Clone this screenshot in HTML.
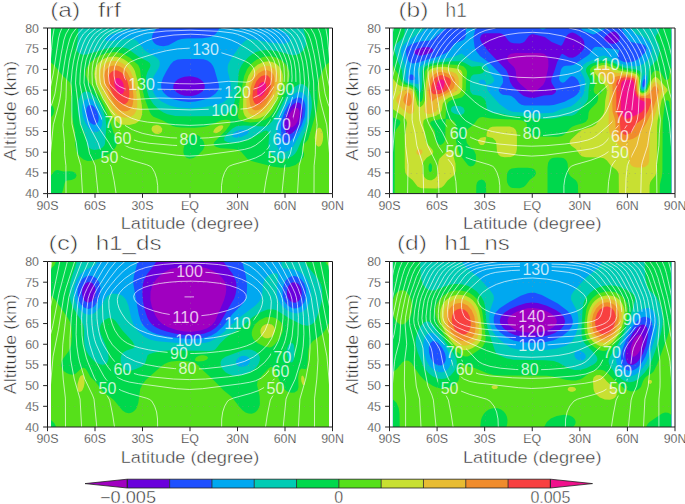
<!DOCTYPE html>
<html><head><meta charset="utf-8"><style>html,body{margin:0;padding:0;background:#fff;overflow:hidden}svg{display:block;font-family:"Liberation Sans",sans-serif}</style></head>
<body><svg width="685" height="504" viewBox="0 0 685 504" font-family="Liberation Sans, sans-serif">
<rect width="685" height="504" fill="#fff"/>
<clipPath id="clipa"><rect x="51.0" y="28.0" width="278.0" height="165.6"/></clipPath>
<g clip-path="url(#clipa)">
<rect x="51.0" y="28.0" width="278.0" height="165.6" fill="#a000c0"/>
<path fill="#6a00dc" fill-rule="evenodd" d="M50.5,28l279,0 0,165.6-279,0 0-165.6zM295.5,107.8l-2,1-2,2.1-2,3.4-1.2,3.5-.5,3 .2,3 .6,2 1.9,1.7 2-.3 3-2.5 2-3.2 1.4-3.7 .7-4-.3-3-.8-1.9-1-.9-2-.2z"/>
<path fill="#1e50ff" fill-rule="evenodd" d="M50.5,28l279,0 0,165.6-279,0 0-165.6zM184.5,76.8l-4,1.2-3,1.6-2.5,2.3-1.2,2-.6,3 .4,2 1.3,1.9 2.4,2 3.2,1.7 4,1.2 7,.3 4-.8 3.4-1.4 3.1-2 1.8-1.9 .9-2 0-3-1.5-3-2.7-2.5-3-1.6-4-1.1-4-.4-5,.5zM295.5,102.7l-3,2-3,3.6-2.9,5.5-1.7,5-.7,5 .5,5 1.5,3.9 2.3,1.6 2-.2 2-1.1 4-4.2 3.5-6 2-6 .7-7-1.2-4.9-1-1.4-2-1.1-3,.3z"/>
<path fill="#00a8f0" fill-rule="evenodd" d="M50.5,28l106.4,0-3.4,4.6-1.1,2.4-.5,3 .4,2 1.8,3 2.4,1.7 3,1.1 4,.4 5-.9 9-5 4-1.3 5-.4 16-.3 7-1.1 3.1-1.2 2.9-2 2.5-3 1.5-3 110,0 0,165.6-279,0 0-165.6zM90.5,104.8l-2,.5-1.9,2.5-.5,4 .5,4 1.6,4 2.3,3.1 3,1.8 2-.1 2-1.5 1-2.3 .2-3-.4-3-1.4-4-1.9-3-2.5-2.3-2-.7zM183.5,58.9l-6,.6-4,1.8-3,3.3-4,6.5-3.6,6.8-1.8,6 .3,5 2.3,3.9 3.8,3.4 6,3 7,1.9 8,.8 7-.4 8-1.8 7-2.7 4.8-3.2 3-3.9 .6-2 0-3-4.4-15.4-1.5-3.6-2.1-3-3.4-2.5-4-1.1-6-.4-14,0zM296.5,97.7l-4,2.4-4,4.7-3.9,7-2.9,8-.9,7 .7,8.9 1.6,5 1.4,1.6 1,.5 2-.1 3-1.7 6-6.9 5-8.6 3.1-8.7 .9-8-.3-4-.9-3-1.1-2-1.7-1.6-2-.8-3,.3z"/>
<path fill="#00ccb4" fill-rule="evenodd" d="M50.5,28l80.2,0-3.2,1.6-10,2.7-6,2.3-5.4,3.4-.8,1-.1,1 2.2,1 4.1,0 18-2.5 4,.6 3.5,1.9 7.5,8.9 3,2.3 8.4,4.7 2.2,2 1.2,2 .5,2-.3,3-1.3,3-4.7,7.8-1.5,6.2 0,4 .5,3 1.1,2.9 1.9,3.1 2.7,2.9 3.3,2.7 8,4 8,1.9 12,.8 12-.8 14-2.1 7-2.3 4.1-3.2 3-5 1.4-5.9-.4-6-2.9-12 0-4 .6-3 3.1-6 10.3-13.9 3.8-3.6 3-1.2 3-.2 19,3.7 10,.9 5-.2 3.6-1.4 1.3-2-.3-3-1.6-2.3-3-2.3-4-1.9-5-1.4-6-1.1 59,0 0,165.6-279,0 0-165.6zM87.5,98.5l-3,2-2,4.3-.5,6 .9,6 2.3,6 3.3,5.1 4,3.6 2,.8 2,0 3-1.9 2.4-4.6 .6-5-.9-6-2.6-7-3.5-5.3-4-3.3-2-.7-2,0zM240.5,129.7l-3.6,1.1-3.1,1.9-1.5,2 .2,2 3,1.1 6-.9 4.9-2.2 2.3-2 .4-1-.3-.9-2.2-1-6.1-.1zM296.5,92.6l-5,3.5-5,6.4-5.4,10.3-3.8,10-.6,5-.1,16.9 1.9,4.5 2,1.7 2,.8 3,.1 3-1 2.7-2.1 2.3-2.9 9.5-17 2.4-6 1.8-6 1-6 .2-5-.4-4-1.1-4-1.8-3-2.6-2.2-3-.7-3,.7zM251.7,28l5,0-5,0z"/>
<path fill="#00d84c" fill-rule="evenodd" d="M50.5,28l27.7,0-.2,8-1.5,12 1.2,3.9 2.8,2.3 3,.6 3-.3 21-6.2 7-1 7,0 4,.7 3,1.2 10.6,7.7 8.4,4.3 2.2,1.7 .8,2-.4,2-2.6,5-1.3,4-.3,6 .4,6 2.2,7.9 2,4 3,4.5 6,5.8 4,2.5 4,1.6 8,1.7 14,.4 27-.4 9-2.1 3-1.4 2-1.5 1.5-2.1 1.5-3.4 2.9-10.6 1.2-7.9 .9-13 1.2-5 2-4 3-4 3.8-3.9 4-3.1 3-1.7 4-1.3 4-.7 5-.3 8.2,1 14.8,4.2 3,.1 3-.7 3-1.6 2.9-3 1.8-2.9 .9-3-.1-6-2.8-10 26.3,0 0,165.6-279,0 0-165.6zM84.5,91.7l-2,1.2-1.7,1.9-2.4,6-.7,8 1,8 2.1,7 5,11.9 1.1,8 .7,2 1.4,2 2.5,1.6 3,.6 3-.3 2.9-.9 2.1-1.3 1.6-1.7 .9-2 1.3-17.9-.9-8-3.8-11-5.1-8.4-3-3.4-3-2.3-3-1.2-3,.2zM298.5,84.5l-5,3.1-5,5.6-4.8,7.6-8.2,15.6-4,5.6-3,2.9-2,1.2-2,.3-21-.9-7,.7-4,2.2-5.5,5.3-2.7,4-.2,2 .5,1 2.9,1.6 4,.4 5-.2 6-1.1 9-3.3 12-6.8 3-.8 2,1.6 .8,2.6-.9,10 .4,4 1.2,3 2.4,3 4.6,3 5.5,1.3 5-.5 5-2.5 2.5-2.3 2-3 9.1-20.9 4-12 1.7-10 .1-5-.5-5-1.3-5-1.6-3.5-2-2.8-3-2.1-2-.4-3,.5z"/>
<path fill="#56e01a" fill-rule="evenodd" d="M107.1,52.9l8.4-.9 7,1.4 7,4 8.7,7.5 1.8,4 2.2,19 2.2,9.9 5.2,14 1.7,3 2.2,2 9.8,4 9.2,5.2 4,1 5,.5 13,.2 9-.6 5-1.4 13-5.4 4-.6 3,.3 1.6,.8 .6,1-.7,3-4.5,6-11,10.9-.9,2 .6,2 2.3,1.4 4,1.1 13,.9 4,.6 3.6,2 6.1,7 4.3,2.4 22,5.6 8,1.1 8-.7 6-2.2 5-3.8 3.2-4.4 .4-3-1.6-4 0-3 1-2.3 4.5-4.7 8.7-28.9 1-9-.1-14.9 .9-6 2.1-6 3.4-7 2.5-3.4 3-2.5 0,131.6-267.7,0 1.4-4 1.3-6 .9-2 1.7-1 4.4-.6 3-1.2 1.3-1.2 .8-2-1.1-2.6-3-1.6-3-.2-6,.4-6-1.6-2,.6-1.6,1.1-3.4,4.6 0-58.5 2.7-3 1.1-4-1.1-4-2.7-3 0-41.7 4,3.4 7.4,9.4 7.6,7 2,3.9 .4,4.1-1.1,12.9 .1,7 1,7 3.2,14.9 .2,14 1.4,6 2.8,4.5 4,3.3 4,1.4 5-.1 8-2.5 9-4.8 5.1-4.8 1.3-2 1-3-.3-4-3.1-7.2-4.7-14.7-4.7-12-5.6-10.4-11.2-15.5-1.8-5 .2-4 1-3 1.8-3 2.5-3 3.5-3 4-2.6 4-1.9 4.6-1.5zM193.5,134.5l-3,1.3-3.1,2.9-2.2,4-1.7,6-.1,4 1.1,3 2,2 3,1.1 4-.7 5-3.4 4.6-5 1.6-4-1-4-3.2-4.8-3-2-2-.6-2,.2zM263,56.9l5.5-.7 5,.6 5,1.8 5,3.5 3.4,3.8 2.4,5 .5,5-1,5-2.8,7-9.9,19.9-3,5-3.5,4-5.1,3.2-6,1.8-8,.7-7-.9-3-1.3-1.9-1.5-.8-3 2-17 4.4-22.9 3-7 3.9-5 5.4-4.2 6.5-2.8z"/>
<path fill="#c8e032" fill-rule="evenodd" d="M109.1,56.9l3.4-.4 4,.2 4,1 3,1.4 4,2.6 3.6,3.2 2.3,3 1.5,3 2.7,10 4.2,23.9 .5,6-.3,4-1.3,4-2.2,2.8-3,1.9-6,1.4-6-.1-4-1.1-4-3.1-5-7.8-14.4-29.9-1.5-5-.4-4 .5-4 1.1-3 2.7-4 3-2.6 4-2.2 3.6-1.2zM263.4,61.9l5.1-.6 4,.7 4,2 3,2.9 2.3,4 1,4 .1,5-.9,5-2.7,7.9-4.1,9-3.7,6.6-3.4,4.4-3.6,3-5,2.4-5,1-5-.3-2.7-1.1-2-2-1.3-3-.5-3 .2-11 2.6-14.9 2.7-8.1 4-6.6 5-4.5 5.9-2.8zM153.3,125.8l3.2-.9 2,.3 2,1 1.8,2.6-.4,2.9-1.4,1.4-2,.8-3-.2-1.9-1-1.7-1.9-.4-2 .7-2 1.1-1zM219,125.8l2.5-.6 1.6,.6 .2,1-.8,2-2,2.1-3,1.9-2,.5-1.8-.6-.4-1 .8-1.9 1.7-2 3.2-2zM318.4,127.8l1.6,0 1.5,1.4 1.3,3.5 .4,4-.4,4-.9,3-1.4,2.3-2,.8-1.6-1.1-1.2-2-1-6 .9-6 .9-2 1.9-1.9z"/>
<path fill="#e8bc32" fill-rule="evenodd" d="M112.2,60.9l3.3,0 3,.7 4,1.7 3,2 2.7,2.6 2.2,3 3.1,7 1.6,7 1.5,9.9 .7,7-.1,5-.9,4-1.6,3-2.2,2-3,1.4-4,.6-4-.7-3-1.5-3-2.7-3-4-3-5.5-5.4-11.6-3.1-7.9-1.5-8 .3-4 1-3 1.9-3 2.8-2.6 3-1.5 3.7-.9zM265.2,65.9l3.3-.1 3,.9 3,1.9 2,2.5 1.3,2.8 .7,4-.1,4-.9,5-1.9,5.9-2.7,6-3.3,6-3.1,4.3-3,2.9-4,2.3-4,1.1-3-.3-2-.8-2-2.1-1.2-2.4-.8-4-.1-9 1.9-10.9 2.9-8 3.3-5.4 5-4.4 3-1.5 2.7-.7z"/>
<path fill="#f08c2c" fill-rule="evenodd" d="M111,65.9l2.5-.5 3,.1 3,.8 3,1.7 2.4,1.9 2.5,3 3,6 2.3,10 .7,6.9-.1,5-.6,4-1.2,2.8-1.9,2.2-2.1,1.2-3,.4-3-.7-3-1.7-2-1.9-5-7.4-5.3-11.8-2.1-8 .2-6 1-3 1.3-2 1.9-1.7 2.5-1.3zM262.4,70.9l2.1-.6 3-.1 3,1.2 1.7,1.5 1.3,2 1,3 0,7-1.2,5-1.8,4.7-5,8.8-2.9,3.4-2.5,2-2.6,1.3-3,.4-2-.7-1.3-1-2.1-4-.8-6 .7-8 1.8-6.9 2.7-5.7 4-4.9 3.9-2.4z"/>
<path fill="#f84040" fill-rule="evenodd" d="M112.9,70.9l2.6-.6 2,.3 4,1.9 3.3,3.4 2.6,5 1.7,7 .3,7.9-1.1,5-1.4,2-1.4,1-2,.4-2-.4-4-2.9-4-5.7-3-6.3-1.7-6-.3-5.4 1.1-3.6 1.7-2 1.6-1zM261.7,75.9l3.8-.9 2,.5 1.7,1.4 1.7,4-.2,6-2.4,6.9-3.8,6.4-4,3.6-2,.7-2,0-2-1.4-1.5-3.3-.5-4 .5-5 1.3-4.9 2.2-4.8 2.6-3.2 2.6-2z"/>
<path fill="#f0108c" fill-rule="evenodd" d="M116.5,77.9l2,0 2,1.2 2,2.6 1,2.2 .7,6-.7,2.7-1,1.2-2,.1-1.6-1.1-1.8-2-1.6-2.9-1-3-.3-3 .4-2 1.9-2zM262.6,81.9l1.9,.1 1,.9 .7,2-.1,3-.9,2.9-1.7,3.2-2,2.1-2,.7-1-.3-1.2-1.7-.1-4.9 .9-3 1.4-2.5 1.4-1.5 1.7-1z"/>
<mask id="maska" maskUnits="userSpaceOnUse" x="0" y="0" width="685" height="504"><rect x="0" y="0" width="685" height="504" fill="white"/><rect x="189.7" y="41.9" width="31.7" height="15" fill="black"/><rect x="125.7" y="76.4" width="31.7" height="15" fill="black"/><rect x="221.7" y="84.8" width="31.7" height="15" fill="black"/><rect x="274.1" y="81.9" width="22.8" height="15" fill="black"/><rect x="208.7" y="102.8" width="31.7" height="15" fill="black"/><rect x="102.1" y="115.3" width="22.8" height="15" fill="black"/><rect x="111.1" y="130.7" width="22.8" height="15" fill="black"/><rect x="177.1" y="132.2" width="22.8" height="15" fill="black"/><rect x="98.1" y="149.7" width="22.8" height="15" fill="black"/><rect x="270.6" y="117.3" width="22.8" height="15" fill="black"/><rect x="270.1" y="132.2" width="22.8" height="15" fill="black"/><rect x="265.1" y="149.7" width="22.8" height="15" fill="black"/></mask>
<path d="M95.5,30.0V193.6M142.5,30.0V193.6M190.5,30.0V193.6M238.5,30.0V193.6M285.5,30.0V193.6M52.0,49.5H329.0M52.0,90.5H329.0M52.0,132.5H329.0M52.0,173.5H329.0" fill="none" stroke="#909090" stroke-opacity="0.45" stroke-width="1" stroke-dasharray="1 4.6"/>
<path d="M325.8,28l1.7,10 2.4,24.9 2.6,13.8M47.5,76.7l2.6-13.8 2.4-24.9 1.7-10M318,28l2.1,5 1.3,5 5.2,34.9 3.5,17 2.4,7.6M47.5,97.5l2.4-7.6 3.5-17 5.2-34.9 1.3-5 2.1-5M310.6,28l3.5,6 2,6 2.7,13.9 6.3,39.9 3,10 4.4,10.2M47.5,114l4.4-10.2 3-10 6.3-39.9 2.7-13.9 2-6 3.5-6M303.5,28l4.6,6 2.1,5 1.7,6 2.3,9.9 1.9,11 2.4,17 .4,7.9 1.1,8 1.6,7 5.1,19 5,50.8 .8,18M47.5,193.6l.8-18 5-50.8 5.1-19 1.6-7 1.1-8 .4-7.9 2.5-17 1.8-11 2.3-9.9 1.7-6 2.1-5 4.6-6M296.7,28l5.6,6 2.2,4.2 1.8,4.8 2.8,9.9 1.7,8 2.8,21 .4,16.9 3.1,26-1.6,17.9-.2,12-1.2,11-.1,27.9M66,193.6l-.1-27.9-1.2-11-.2-12-1.6-17.9 3.1-26 .4-16.9 2.8-21 1.8-8 2.7-9.9 1.8-4.8 2.2-4.2 5.6-6M290.1,28l6.5,6 2.5,4 2.3,5 3.4,10.9 1.8,8 1.2,8 1.2,13-.8,13.9-.1,27-4.4,18.9-1.4,12-3.2,11-1.6,27.9M82.5,193.6l-1.6-27.9-3.2-11-1.4-12-4.4-18.9-.1-27-.8-13.9 1.2-13 1.2-8 1.8-8 3.4-10.9 2.3-5 2.5-4 6.5-6M283.6,28l7.5,6 3.5,5 2.3,5 3.8,10.9 2,8 1.1,9 .8,11-5,40.9-7,18.9-2.2,11-4,8-1.6,4-2.9,27.9M98.1,193.6l-2.9-27.9-1.6-4-4-8-2.2-11-7-18.9-4.9-40.9 .7-11 1.2-9 1.9-8 3.8-10.9 2.3-5 3.5-5 7.5-6M277.2,28l7.3,4.9 2.2,2.1 3.6,5 2.8,6 3.7,9.9 2,8 1.1,10 .3,10-4.3,21.9-4.3,18-1.8,4-7.8,14.9-3.8,11-7,9-2.4,4-2.9,13.9-2,13M116.1,193.6l-2-13-2.9-13.9-2.4-4-7-9-3.7-11-7.9-14.9-1.7-4-4.1-17-4.5-22.9 .3-10 1.1-10 1.9-8 3.7-9.9 2.8-6 3.6-5 2.2-2.2 7.2-4.8M270.9,28l8.3,5 3.2,3 2.4,3 2.4,4 3.2,6.9 3.8,11 1.5,10 .3,13-5.3,19.9-5.4,16-2.5,6-11.5,16.9-2.9,5-3.9,4.8-3,2.4-6,3-7,2.4-15.6,4.4-3.4,1.4-2.1,1.6-2.9,5-2,5.9-1,7-.1,8M157.8,193.6l-.1-8-1-7-1.9-5.9-2.8-5-1.5-1.3-3.8-1.7-15.2-4.4-7-2.4-6-3-3-2.4-3.9-4.8-2.8-5-12-17.9-2.7-7-4.9-15-5.2-19.9 .6-14 1.5-9 4-11 2.7-5.9 2.4-4 2.4-3 3.1-3 8.4-5M264.3,28l7.7,4 3.1,2 3.4,3.3 2.9,3.7 3.3,6 3.6,7.9 2,6 1.2,6 .6,10-.4,8-6.8,19.9-8.8,19-4.4,6-9.2,10-7,5.5-4.9,2.4-6.1,1.7-10,1.6-32,4.3-13,.8-13-.9-31-4.2-10-1.7-6-1.6-5-2.5-6.9-5.5-9.1-10-4.4-5.9-8.8-19-6.8-19.9-.5-8 .6-10 1.2-6 2-6 3.5-7.9 3.3-6 2.9-3.8 3.3-3.2 3.1-2 7.7-4M257.4,28l10.7,5 3.9,3 3.5,3.6 3,4.3 4.3,8 2.6,6 1.6,5 .7,4 .5,6-.3,11-5.7,14.9-5.7,11.5-7,11.4-4.1,5.1-4.9,4.4-5,3.9-4,2.7-4,1.9-8,2.2-10,1.5-23,2-17,.6-17-.7-23-2-11-1.8-7-2.3-3-1.6-5-3.5-9-7.8-4-5.2-7.4-12.3-5-10-5.8-14.9-.3-11 .4-6 .7-4 1.5-5 2.6-6 4.3-8.1 3-4.3 3.4-3.5 3.9-3 10.7-5M249.5,28l12.6,5 3.1,2 3.6,3 3.6,4 2.6,4 4.1,6.9 2.7,6 1.6,5 .6,4 .4,8-.3,7-.9,3-6.7,14.3-6,9.4-9,10.8-6,5.2-8,4.4-10,3.5-12,2.3-17,2-19,.8-19-.9-16.8-2-11.2-2.3-10-3.6-8-4.7-6-5.4-9-10.9-6.3-10-6.1-12.9-.9-3-.4-7 .3-8 .9-5 1.5-4.7 2.9-6.3 4.1-6.9 2.8-4 2.8-3 3.6-3 3.1-2 12.6-5M239.4,28l13.1,3.9 4.8,2.1 4.4,3 3.5,3 5.3,6.6 6,9.8 2,4.5 1.2,4 .7,6 .1,6-.4,6-1.1,3-6.5,11.8-6,8-4,3.9-4,3.3-4,2.6-5,2.6-7,2.3-8,1.4-30.8,3-14.2,.6-14-.7-28-2.6-9-1.6-7-2.3-5-2.6-4-2.6-4-3.2-4-3.9-6-7.6-7.2-12.4-1.1-3-.5-6 .1-7 .6-5 1.2-4 1.9-4.6 6-9.9 5.1-6.4 3.5-3 4.5-3 4.9-2.1 13.1-3.9M220.7,28l10.8,1.6 11.6,2.4 6.1,2 4.3,2.3 5.1,3.7 4.9,5.1 6.8,8.8 3.8,7 1.6,5 .7,7-.3,8-1,4-6.6,9.7-4,4.6-5,4.2-6,3.3-6,1.8-7,.6-19-.3-31,1.1-30-.9-20,.3-6-.6-6-1.5-5-2.4-5-3.5-4-3.9-3-3.6-5.6-7.9-1.4-3-.7-7 .3-8 1-5 2.7-6 4.6-7 6.1-7.4 3.9-3.5 5.1-3.3 4-2.1 5.3-1.6 11.7-2.4 10.8-1.6M166,31l24.5-.8 28,1.1 14.1,1.7 4.9,1.3 7,2.9 6.4,3.8 4.6,3.9 8,8.2 5,6.9 2.2,4.9 1,6 0,7-1,6-1.4,2-5,4.9-4.8,4.1-6,2.9-6,1.1-5,.1-18-1.2-34,1-31-.8-24,1.4-4-.4-4-1-4-1.7-3-1.8-3-2.4-6.4-6.2-1.4-2-.7-3-.7-7 .6-7 1.5-5 3.1-5.4 5-6 7.8-7.5 4-3 5.4-3 7.5-3 4.2-1 18.6-2M174,35l16.5-.8 11,.5 10,.9 8,1.2 6,1.4 6,2 6.2,2.8 9.8,5.9 7,4.8 4.9,4.2 3.3,4 2,4 1.2,6-.2,6-1.2,5.2-2,2.2-4,2.2-5,1.6-5,.7-22-.9-36,.9-33-.6-22,1.3-5-.3-6-1.5-5-2.2-3.4-2.6-1.1-3-.9-5 0-5 .6-4 1.1-3 1.7-3 2.5-3 3.1-3 5.4-3.9 7-4.4 11-5.7 5.3-1.9 7.7-2 14.5-2M177.5,48.9l13-.8 15,1.2 14,2.9 15.1,4.7 10.9,4.4 3,1.7 3,2.3 1.9,2.6 1.1,3 .3,3-.6,3-1.2,2-1.5,1.5-2,1.1-3,.7-18-.9-19,1.8-14.8,.8-15.2-.2-25-1.5-16,1.4-5,.1-4.3-.8-2.6-2-1.4-2-.9-2-.6-3 .7-5 2.4-4 3.8-3 6.9-3 18-5.5 11-2.7 11-1.8" fill="none" stroke="#fff" stroke-opacity="0.75" stroke-width="0.9" mask="url(#maska)"/>
<g fill="#fff" font-size="15.6" fill-opacity="0.78"><text x="205.5" y="55.0" text-anchor="middle" textLength="26.7" lengthAdjust="spacingAndGlyphs">130</text><text x="141.5" y="89.5" text-anchor="middle" textLength="26.7" lengthAdjust="spacingAndGlyphs">130</text><text x="237.5" y="97.9" text-anchor="middle" textLength="26.7" lengthAdjust="spacingAndGlyphs">120</text><text x="285.5" y="95.0" text-anchor="middle" textLength="17.8" lengthAdjust="spacingAndGlyphs">90</text><text x="224.5" y="115.9" text-anchor="middle" textLength="26.7" lengthAdjust="spacingAndGlyphs">100</text><text x="113.5" y="128.4" text-anchor="middle" textLength="17.8" lengthAdjust="spacingAndGlyphs">70</text><text x="122.5" y="143.8" text-anchor="middle" textLength="17.8" lengthAdjust="spacingAndGlyphs">60</text><text x="188.5" y="145.3" text-anchor="middle" textLength="17.8" lengthAdjust="spacingAndGlyphs">80</text><text x="109.5" y="162.8" text-anchor="middle" textLength="17.8" lengthAdjust="spacingAndGlyphs">50</text><text x="282.0" y="130.4" text-anchor="middle" textLength="17.8" lengthAdjust="spacingAndGlyphs">70</text><text x="281.5" y="145.3" text-anchor="middle" textLength="17.8" lengthAdjust="spacingAndGlyphs">60</text><text x="276.5" y="162.8" text-anchor="middle" textLength="17.8" lengthAdjust="spacingAndGlyphs">50</text></g>
</g>
<path d="M47.5,193.6H332.5M47.5,28.0H332.5" stroke="#222" stroke-width="1" fill="none"/>
<path d="M47.5,28.0V193.6M332.5,28.0V193.6" stroke="#111" stroke-width="1" fill="none"/>
<path d="M43.1,193.60H47.5M43.1,172.90H47.5M43.1,152.20H47.5M43.1,131.50H47.5M43.1,110.80H47.5M43.1,90.10H47.5M43.1,69.40H47.5M43.1,48.70H47.5M43.1,28.00H47.5M47.50,193.6V197.8M95.00,193.6V197.8M142.50,193.6V197.8M190.00,193.6V197.8M237.50,193.6V197.8M285.00,193.6V197.8M332.50,193.6V197.8" stroke="#222" stroke-width="1" fill="none"/>
<g font-size="12.4" fill="#333" stroke="#fff" stroke-width="0.25"><text x="39.0" y="198.1" text-anchor="end">40</text><text x="39.0" y="177.4" text-anchor="end">45</text><text x="39.0" y="156.7" text-anchor="end">50</text><text x="39.0" y="136.0" text-anchor="end">55</text><text x="39.0" y="115.3" text-anchor="end">60</text><text x="39.0" y="94.6" text-anchor="end">65</text><text x="39.0" y="73.9" text-anchor="end">70</text><text x="39.0" y="53.2" text-anchor="end">75</text><text x="39.0" y="32.5" text-anchor="end">80</text><text x="47.5" y="210.0" text-anchor="middle">90S</text><text x="95.0" y="210.0" text-anchor="middle">60S</text><text x="142.5" y="210.0" text-anchor="middle">30S</text><text x="190.0" y="210.0" text-anchor="middle">EQ</text><text x="237.5" y="210.0" text-anchor="middle">30N</text><text x="285.0" y="210.0" text-anchor="middle">60N</text><text x="332.5" y="210.0" text-anchor="middle">90N</text></g>
<text x="190.0" y="229.1" text-anchor="middle" font-size="16.8" fill="#333" stroke="#fff" stroke-width="0.4" textLength="138.5" lengthAdjust="spacingAndGlyphs">Latitude (degree)</text>
<text transform="translate(16.0,110.8) rotate(-90)" text-anchor="middle" font-size="16" fill="#333" stroke="#fff" stroke-width="0.4" textLength="100" lengthAdjust="spacingAndGlyphs">Altitude (km)</text>
<clipPath id="clipb"><rect x="392.9" y="28.0" width="278.3" height="165.6"/></clipPath>
<g clip-path="url(#clipb)">
<rect x="392.9" y="28.0" width="278.3" height="165.6" fill="#a000c0"/>
<path fill="#6a00dc" fill-rule="evenodd" d="M392.5,28l279.5,0 0,165.6-279.5,0 0-165.6zM510.7,53.8l-2.9,2.1-.8,3 1.6,3 5.1,4.9 1.4,2.1 .8,3 .5,6 1.2,3 2.7,3 8.4,7.3 2,.9 2.1,.2 3.6-1.5 6.7-5.9 2.1-4 2.6-11 .6-4-.1-6-1.5-3.8-3-2.3-4-.8-24.1,0-5,.8zM572.8,45.5l0,1.8 1,.2 .4-1.5-.4-1-1,.5z"/>
<path fill="#1e50ff" fill-rule="evenodd" d="M392.5,28l279.5,0 0,165.6-279.5,0 0-165.6zM420.6,47.7l-4,1.2-2.1,1.3-.7,1.7 1.3,2 3.5,1.7 3-.1 8-1.9 2-1 1.3-1.7-.2-2-2.1-1.3-4-.5-6,.6zM570.8,32.8l-2.4,1.2-1.9,2-3.7,7.7-1,1.5-1,.5-9.1-3.7-6.9-5.1-11-2.6-2.1,0-1.6,.7-1.4,1.1-4,5.3-2,1.3-3,.7-6-.1-3-.8-2-1.5-4.7-6-2.3-1.2-2-.5-12-.1-4,.4-2,1.1-1,1.2-.7,3.1 1.7,3.8 6.3,8.1 18.2,19 1.9,4 2,8 2.4,4 8.2,7.9 3,2.2 5,1.6 5.1,.3 10-2.4 8-.6 2-.8 1.5-1.3 .6-1 .1-1.9-4.2-6.7-.6-2.3 .1-2 3.1-8 2.8-9 3.6-6.7 1-1.1 1-.1 6,3.4 4,.3 3-1.2 3-2.2 3-2.9 1.8-2.5 .7-1.9 .2-3-.6-3-1.1-2-2.1-2-4.9-3.3-3-1.1-2,.2zM611.9,31.8l-3,1.6-3.3,2.6-1.4,2 .2,2 2.3,2 3.2,1.2 3,.5 3-.5 3.1-2.2 .7-2-.2-2-1.6-2.8-2-1.9-2-.7-2,.2z"/>
<path fill="#00a8f0" fill-rule="evenodd" d="M392.5,28l52.5,0-1.8,3-5.6,4-5,4.6-3,.9-10,.9-8.1,2.7-4,2.8-1.2,2-.4,2 1,7 2.6,4.4 3,1.1 6.1-1 8-2.7 10.4-2.8 9.1-4 4.1-3 3-4.9 1.4-1.4 8-3.3 2-1.6 1.2-2.7 .2-8 9.7,0-1.8,7-.4,4 1.1,8 1.5,3.9 3.9,5 9.6,7 10.8,11 2.5,4 .2,4-.8,2-3.4,5-.2,1.5 .5,1.4 1.5,1.7 2,1.2 7,.9 2,.7 3,2.3 4,4.5 2.7,1.7 3.3,.7 8.1,.1 16,0 5-.7 10.8-3.1 9.2-4.8 3-2.2 2.3-3 .9-2.9-.5-5-1.7-3.9-3-3-3-.9-2,1-5,5-2,.7-2-.8-1.5-2.1-.3-2 1.9-8 1-2 1.9-1.7 2-.5 5-.1 3-.9 13.3-8.8 2.4-2 3.4-5.1 2-1.9 3-.2 18,2.5 2.8,.7 .3,1-1.6,5 .5,2 2,2.2 4,2 4,.3 5-.7 4-1.8 2.6-2 6-6 1-3-.6-2-1.7-1.9-2.1-1-9.2-1.5-3.5-1.5-1.8-2-6.5-11 50.9,0 0,165.6-279.5,0 0-165.6zM409.5,74.9l-1,1.9 0,1.1 1,1.7 2,.7 3-.6 .7-.8 0-1-1.7-2.7-2-1-2,.7zM644.9,78.9l-1,.4-1.1,2.6-.4,3 .5,2.3 1.2-.3 1.4-3 .3-3-.9-2zM539.2,28l6.9,0-1.3,1-2,.4-2-.4-1.6-1zM580.1,28l25.8,0-3,2.1-8,4-2,.5-9.1-3.7-3.7-2.9z"/>
<path fill="#00ccb4" fill-rule="evenodd" d="M392.5,28l32.1,0-1,2-2,1.9-4.1,2.4-12.1,8.7-2.8,3-1.3,2.9-.3,3 1,6 4.5,11-1.1,9 .8,2 2.3,2 8,2 2.1,0 1-1.6 .3-3.4-.5-3-1.7-5 .1-2 1.8-2 4.4-3 6.6-2.5 23-4.7 8-3.1 9,6.5 3,1.1 9.1,1.8 2.9,1.9 1.9,2 3.2,7.2 2.9,3.8 .7,2-.9,2-1.7,1.5-5,1.5 .4,4 2.2,3.9 10.4,11.5 8,5.6 4.8,1.9 20.3,1.4 10,.1 10-.5 9-3.9 9-2.5 4-2.6 6.4-6 1.9-3 1.1-3 1-9.9-1-4-3.7-7 0-2 2.8-4 3.5-2.7 8.8-3.3 5.3-2.6 3-.7 4,1.2 13.2,7.1 4.8,1.5 8,.8 4.2-.3 3.8-1.1 4-2.9 3.4-4 1.9-4 .9-4-.7-3.9-1.7-3-3.8-4.2-3-2.2-6-2.1-2-1.1-2-2.1-2-3.3 41.1,0 0,165.6-279.5,0 0-165.6zM480.7,79.7l-1.7,1.2-.1,1 .5,1 2.3,1.3 4,.4 .5-.7-.9-3-1.6-1.2-3,0zM644.9,74.6l-1,.7-1,1.9-1.5,6.7 .1,4 .4,1 1,.6 1-.3 1.3-1.3 1.9-6-.1-5.1-1.1-1.8-1-.4z"/>
<path fill="#00d84c" fill-rule="evenodd" d="M392.5,28l12.2,0-.2,5-.8,3-2,3-6.6,6-.9,2 .1,2.9 3.5,11 4.1,9 .9,8 .7,2 1.5,2 1.4,1 7.1,2.5 2,1.3 1.9,2.2 2.2,3.9 1-.3 1.1-4.6 .6-8-.1-9 1.4-2.9 2-1.8 5-2.4 8-1.5 13-1.1 9,.1 4,1.4 7,4 8.1-.6 2.5,.8 1.8,2 .3,2-1.6,2.2-3,1-6.1,.3-2,1.5-1,2-.7,3 .1,8 .6,3.1 2,2.5 8.1,1.6 3.5,2.7 1.7,3 .9,7 1.3,2 1.3,1 3.3,1.1 8,.6 10,2.2 12,.5 11.1,2.4 9,.2 11-.3 10-2.2 8-.6 3-1.1 2-1.6 9.9-11.2 1.4-3 .5-8.9 1.3-9-.4-2-3.3-7-.3-2 .6-2 1.6-2 2.8-1.8 10-3.6 3-.4 3,.5 6,2 11,4.9 12,2.1 4,1.4 1.4,1.9 .3,2-1.1,10 .2,4 1.2,1.9 2,0 2.5-2.9 1.8-6 .8-13 2-3 6-6 1.6-4 1.1-6 0-2.9-.9-3-3-5 .1-3 2.6-4 1.2-4 12.3,0 0,165.6-279.5,0 0-165.6zM455.6,105.8l-3,.8-1.2,1.2-.6,2 .8,2.3 3,1.6 5,1.2 2-.2 1.7-.9 .8-1 .6-2-1.3-3-2.8-1.6-5-.4z"/>
<path fill="#56e01a" fill-rule="evenodd" d="M601.4,62.9l2.5-.2 3,.4 5,1.7 10,4.4 12,2.2 4,1.6 1.7,1.9 .5,2-.4,9 .2,3.5 1,2.1 2,.9 2-.8 2.1-2.7 4.3-14 1.7-2.9 3-1.5 3,.7 2,1.7 3.5,6 1.5,1 1,.1 1-.5 1.1-1.6 .8-8 .7-2 1.4-1.6 0,47.2-1.8-3.7-1-8-1.2-1.3-1-.2-1.1,.5-1,2-2.2,18-.3,50.9-.6,4.9-1.9,8-.2,9-81.6,0-.1-8-.7-3-1.5-2.3-5-3.9-2-2.7-.7-3-.4-7-.9-2.5-1.1-1.5-1.9-1.4-2-.6-4-.3-4,.3-2,.6-2,1.4-1.7,3-.6,5 0,25.9-61.2,0-.4-10-1.8-3-2.4-1.2-3,1-1.7,2.2-.7,3-.1,8-81.6,0 .1-59.9 1.2-3.9 3.6-4.7 .9-2.3-.4-2-1.5-1.4-6-2.1 0-54 1.6,4.6 4,6 3.5,8 2.9,2.3 7,2.2 2.3,1.5 2,2.9 2.8,10 1,1.2 1,.1 1.4-1.3 .9-3 2.1-25.9 .8-2 1.8-2 3-1.7 3-.8 6-1 5-.1 15,.7 4,1.6 2.4,2.3 .8,2 .2,2-.9,7-.3,10-1.3,4.9-2.9,2.7-10,2.5-3,1.8-1.3,2-1.1,4-.7,11-5.9,.5-7,1.5-1.9,1-.6,2 4.5,7 .7,2.9 .4,6 .7,2 2.2,2.5 2,.7 1-.3 2-1.5 1.7-3.4 .3-19.9 1-.9 4,.5 2,.8 1.9,1.6 1,2 .2,2 .3,14.9 3.1,12 1.5,3 7,9 1.1,1 1.9,.7 2.7-.7 1.8-2 .9-3-.1-6-1.7-4-5.6-5.3-1.8-2.7-.8-4 .2-6 .6-1.9 1.3-2 5.5-4.4 4.1-5.3 2-1.6 3-.5 8,1.5 28,1.4 4,.7 2.4,1.2 1.6,2 .8,7 1.4,2.9 2.8,2.2 4.1,.7 22,.1 4-.6 3-1.9 5-5.6 2.4-1.8 3.6-1.6 7-1.9 3.1-1.5 2.1-3 .6-6 .7-2 1.6-2.1 5.9-5.9 .9-2 .6-3-.4-2.8-3-1.6-1-1.6-.2-2.9 1.6-5-.1-3-.8-2-3.9-6-.6-3 .9-2 2.5-2 8.1-3zM429.6,163.6l-1,2.1 0,4 .8,2 1.2,.4 1.2-1.4 .2-5-.8-2-.6-.4-1,.3zM511.7,168.4l-2.3,1.3-1.7,2.2-.7,2.7-.2,5 .4,3 1.4,3 2.1,1.8 2,.7 7,.2 4-1.2 2-1.8 4-5.4 5.1-3.9 1.2-2.4-.6-2.9-1.6-1.6-2.1-.9-4-.4-10-.1-6,.7zM599.9,90.5l-.9,2.3 .9,1.1 1-.6 .8-1.5-.1-1-.7-.6-1,.3z"/>
<path fill="#c8e032" fill-rule="evenodd" d="M599.2,65.9l3.7-.9 3,.2 13,5.4 14,2.3 4,1.7 1.8,2.3 .4,2 .1,11 .7,2.1 2,1.6 3-.5 2.1-1.9 5-11.1 1-1.6 2-1.5 1,0 2,1.3 9.3,10.6 .2,1.9-3.5,4.6-2.3,4.4-4.1,21-.5,6-.3,43.9-1.5,4.9-4,5-1.1,2-.6,3-.1,8-30.6,0-.2-19-.9-2.9-1.6-2-5.3-3.9-4-5.4-3-2.2-4-.7-14.1-.2-4-1.1-2-1.6-4-5.5-4.5-3.4-1.5-2-.1-2 1-2 9.1-8.5 3-1.6 9.1-2.6 3.8-2.2 7.2-9.7 1-2 .8-3.3 .5-9 1.6-8-.2-3.9-1.7-4-9.4-11-1.5-3 .5-2 1-1 3.7-2zM437.6,66.9l7-.1 13,1.9 3.1,1.2 1.3,2 .5,2-.2,14-.8,2.9-1.9,2.5-2.7,1.5-8.1,3-4.3,3-1.7,3-1.2,7-2,3-4,2.1-9,2.3-2,1.2-1.1,1.4-.4,4 1.8,7.9 .8,8 1.6,3 5.2,6 .8,2-.6,2-6,4-3.2,4-1,4 .2,7 1.3,3.9 1.6,1.8 2,1.3 2,.5 2,0 3.2-1.6 1.7-2 1.2-3 .7-11.9 1-3 8.2-7.9 2-1 2,1 1.3,2.9 2.6,10 .1,7.2-.7,2.7-1.2,2-6.1,4.9-3.7,5.1-2.3,1.8-5,1-15-.2-2-.6-2.1-1.2-5-6.3-5.6-4.5-1.6-2.9-.5-5 0-32 2.2-12.9-.9-3-2.6-3.3-11-7.8 0-30.7 4.8,5.9 2.2,1.6 3,1 7,.9 3,1.7 2,3.7 2.7,12 1.4,1.9 2,.4 2.6-2.3 1.6-4 1.1-18.9 1.7-9.2 1-1.8 2-1.8 2.7-1.2 4.3-1zM492.2,126.8l4.5-.4 13,.1 3.9,1.3 2,2 .8,1.9 .5,3 0,14-.7,4-2.2,3-3.3,1.4-6,.2-4-.9-2.2-1.7-1.5-3-.6-8-.9-3-2.8-2.8-5.2-1.2-.8-.3-.2-.7 .3-3 1.1-2.9 1.8-2 2.5-1zM480.6,137.7l4.1-.8 1,.1 .5,.7-1,5-1.5,2-1,.4-2-.2-1-.6-1.7-2.6 .3-2 2.3-2z"/>
<path fill="#e8bc32" fill-rule="evenodd" d="M601.4,67.9l2.5-.4 2,.3 7,4 3,.9 16,1.7 4,1.5 1.6,2 .6,2 0,8 .7,3.9 1.1,2 2,1.1 3-.3 2.6-1.8 1.4-2 3.1-6.4 2-2.2 1-.3 2,.6 2.4,2.4 2.1,3 .7,2-.2,1.9-2.7,7-3.3,13-3.7,10-2.5,10.9-.7,29-1.2,3-3,2.2-3,.7-5,0-3-.6-2.3-1.3-1.5-2-.7-2-.7-7-1-3-1.9-2-4.9-2.6-2-1.7-7.8-9.7-1.7-3-.8-5.9 .2-24 .9-10-.1-3.9-.9-4-2.2-5-7.3-8-.1-2 2.3-2zM436,69.9l3.6-.7 4,.2 9,2.5 3,1.4 1.7,1.6 1.3,3 .3,4-.4,5-1.2,3-2.1,1.9-11.6,6-4.2,3-1.1,2-.8,6-1.9,3-4,2-4,.1-2.6-1.1-.8-2 2.8-9-.1-12.9 1.1-9 1.1-4 1.5-2.8 2-1.8 3.4-1.4zM404,89.9l2.5-.7 3,.3 1.9,1.3 1.1,2.2 1.3,6.8 .5,10-.8,2.8-2,1.5-3-.7-6-4.5-4.6-5.1-1.7-3 0-2 .9-2 4.1-5 2.8-1.9zM417.5,149.7l2.1-.8 1.9,.8 .8,1 .1,2-1.8,2.1-2,.3-1.8-1.4-.4-2 1.1-2z"/>
<path fill="#f08c2c" fill-rule="evenodd" d="M436.7,72.9l2.9-.8 3,0 5,1.5 4,1.8 1.9,1.5 1.2,2 .5,2-.3,3-1.2,4-2.8,2.9-6.8,4-8.8,4-3.7,3.2-2-4.9-.8-4.3-.1-3.9 .8-6 1-4 1.1-2 2-2.2 3.1-1.8zM618.2,75.9l4.7-.5 6,.2 4,.6 2,.9 1.5,1.8 .7,2 .2,8 .5,2.9 1.1,2.6 2,1.7 4,.1 3.3-1.4 1.9-2 2.9-5.5 2-1.3 2.1,.9 1.7,3-.2,2.9-5.6,16.5-7.1,14.8-7,10.1-2,2.2-4,2.4-5,1.5-3,0-3-1.1-2.8-2.5-2.1-3-1.2-3.9-.5-9-2.7-9-.4-8 .5-13-.6-10.9 .8-1.7 1-.9 4.3-1.4zM407.1,92.8l1.4-.2 1,.6 1,1.6 1,4.2 .1,2.8-.5,2-1.5,2-1.1,.3-3-1.7-1.3-1.6-.8-2 .1-2 .6-2 1.4-2.5 1.6-1.5z"/>
<path fill="#f84040" fill-rule="evenodd" d="M438.1,75.9l2.5-.7 2,.1 5,1.9 2,1.3 1,1.4 .3,3-2.1,5-1.7,2-2.6,1.9-4.9,2.1-6,.3-1.7-1.4-.7-2 .4-5.6 2-5.5 2-2.2 2.5-1.6zM621.2,77.9l3.7-.6 4,.1 3,.3 2,.8 1.3,1.4 .7,2 .5,8.9 .8,3 1.1,2 2.6,1.9 9.1,.8 1.2,1.3-.3,3-2.4,7-3.6,6.7-2,2.2-6.6,5.1-3.8,7-1.6,1.7-2,1.4-3,1-3-.9-2-2.6-.6-2.6-.4-8-2.9-8-.7-4 0-25.9 1.3-3 3.6-2z"/>
<path fill="#f0108c" fill-rule="evenodd" d="M439.2,79.9l2.4-.6 1.7,.6 1.1,1 .4,2-1.5,5-1.7,1.7-2,.6-2-.3-1.1-1-.3-1 .9-5 2.1-3zM624.6,79.9l5.3-.2 2,.4 1.2,.8 .9,2 .8,7.9 1.5,5 2.6,3.2 6,2.8 .6,2-1.3,5-2.3,3.2-3,1.8-12,5.2-2-.7-2-2.5-1.7-4-.5-3 .3-24.9 .9-2.4 2.7-1.6z"/>
<mask id="maskb" maskUnits="userSpaceOnUse" x="0" y="0" width="685" height="504"><rect x="0" y="0" width="685" height="504" fill="white"/><rect x="590.3" y="56.7" width="31.7" height="15" fill="black"/><rect x="586.2" y="70.5" width="31.7" height="15" fill="black"/><rect x="520.3" y="109.3" width="22.8" height="15" fill="black"/><rect x="520.3" y="126.2" width="22.8" height="15" fill="black"/><rect x="447.2" y="125.7" width="22.8" height="15" fill="black"/><rect x="442.9" y="144.2" width="22.8" height="15" fill="black"/><rect x="612.5" y="110.3" width="22.8" height="15" fill="black"/><rect x="608.5" y="128.6" width="22.8" height="15" fill="black"/><rect x="608.5" y="145.2" width="22.8" height="15" fill="black"/></mask>
<path d="M437.5,30.0V193.6M485.5,30.0V193.6M532.5,30.0V193.6M580.5,30.0V193.6M627.5,30.0V193.6M393.9,49.5H671.2M393.9,90.5H671.2M393.9,132.5H671.2M393.9,173.5H671.2" fill="none" stroke="#909090" stroke-opacity="0.45" stroke-width="1" stroke-dasharray="1 4.6"/>
<path d="M671,28l4,16.6M389.5,44.6l4-16.6M663.4,28l5,15 6.6,25.5M389.5,68.5l6.6-25.5 5-15M656.3,28l3.7,8.1 4.2,11.9 10.8,39.9M389.5,87.9l10.8-39.9 4.2-11.9 3.7-8.1M649.4,28l2.4,4 3.4,7 5.2,13.9 3.5,13 5.7,26.9 5.4,17.5M389.5,110.3l5.4-17.5 5.7-26.9 3.5-13 5.2-13.9 3.4-7 2.4-4M642.8,28l5.1,8 5.2,11 3.6,9.9 2.7,11 3.7,24.9 6.1,29 5.1,55.8 .7,16M389.5,193.6l.7-16 5.1-55.8 6.1-29 3.7-24.9 2.7-11 3.6-9.9 5.2-11 5.1-8M636.4,28l3.2,4 3.2,5 6.1,11.9 3.9,11 2.2,11 1.8,21.9 3.6,27-1.1,13.9-.4,12-2.4,19 .4,28.9M407.6,193.6l.4-28.9-2.4-19-.4-12-1.1-13.9 3.6-27 1.8-21.9 2.2-11 3.9-11 6.1-11.9 3.2-5 3.2-4M630.2,28l3.6,4 3.5,5 4.2,7 3,5.9 4,11 1.3,6 .5,5 .4,19.9 1.6,21 .1,7-.7,4-2.2,8.9-1.9,13-5.2,16-.9,4-.7,27.9M423.7,193.6l-.7-27.9-.9-4-5.2-16-1.9-13-2.2-8.9-.7-4 .1-7 1.6-21 .4-19.9 .5-5 1.3-6 4-11 3-5.9 4.2-7 3.5-5 3.6-4M624,28l4,4 4.6,6 4.3,6.7 3.3,6.2 2.5,6 1.6,5 1.1,6 .3,6-.7,16.9 .2,21-.5,8-1.1,4-3.5,8.9-3.3,13-8,16-1.5,4-1.3,12.9-.4,15M438.9,193.6l-.4-15-1.3-12.9-1.5-4-8-16-3.3-13-3.5-8.9-1.1-4-.5-8 .2-21-.7-16.9 .3-6 1.1-6 1.6-5 2.5-6 3.3-6.2 4.3-6.7 4.6-6 4-4M617.9,28l4.4,4 6.5,8 4.6,7 3.6,6.9 2.3,6 1.3,6 .5,5-.3,8-1.4,11.9-1.1,22-1,7-1.6,4-4.7,8.9-3.4,10-1.7,3.9-5.8,8.1-6.5,8-2.4,4-2.6,14.9-.8,12M456.6,193.6l-.7-12-2.6-14.9-2.4-4-6.5-8-5.8-8.1-1.7-3.9-3.4-10-4.7-8.9-1.6-4-1-7-1.1-22-1.4-11.9-.3-8 .5-5 1.3-6 2.3-6 3.6-6.9 4.6-7 6.5-8 4.4-4M611.7,28l3.8,3 3,3 8.4,10.4 5.6,9.5 2,5 1.2,4 .9,7-.5,8-2.2,12.9-2.1,20-1.5,8-1.8,4-6.5,9.9-5.8,12-1.6,2-2.7,2.5-7,5-6,3.1-8,2.9-15.9,4.5-3.2,1.3-2.2,1.7-2.8,5-1.9,5.9-1,7 0,8M499.8,193.6l0-8-.9-7-1.9-5.9-2.7-5-1.6-1.4-3.7-1.6-16.4-4.8-7-2.5-6-3.2-7-5-2.7-2.5-1.6-2-5.8-12-6.5-9.9-1.8-4-1.5-8-2.1-20-2.2-12.9-.5-8 .9-7 1.2-4 2-5 5.6-9.5 8.4-10.4 3-3 3.8-3M605.1,28l4.3,3 4.3,4 5.2,5.7 4,5.2 3.3,5 2.6,5 2,5 .9,4 .4,6-1.2,9-2.7,10.9-3.6,22-1.3,5-1.4,3-2.9,4-5.8,6.9-6.3,9-4,3.7-4.4,2.3-6.6,2-9.1,1.5-38,5.1-13.1,.8-13-.9-37-5-9.1-1.5-6.6-2-4.4-2.3-4-3.7-6.3-9-5.8-6.9-2.9-4-1.4-3-1.3-5-3.6-22-2.7-10.9-1.2-9 .4-6 .9-4 2-5 2.6-5 3.3-5 4-5.2 5.2-5.7 4.3-4 4.3-3M597.6,28l5,3 3.7,3 5.6,5.4 4.9,5.6 3.6,4.9 3,5 2.5,5.6 1.2,4.4 .3,6-1.4,8-3.9,11.9-4.8,20-3,8-2.1,3-2.9,3-12.4,10.6-4,2.5-5.1,2.1-9,2.1-14,1.9-18.7,1.7-14.4,.5-14-.5-18-1.6-14-2-9-2.1-5.1-2.1-4-2.5-12.4-10.6-2.9-3-2.1-3-3-8-4.8-20-3.9-11.9-1.4-8 .3-6 1.2-4.4 2.5-5.6 3-5 3.6-4.9 4.9-5.6 5.6-5.4 3.7-3 5-3M587.7,28l6.2,2.8 3,1.9 6.5,5.3 5.5,5.3 4.8,5.6 3.5,5 3.2,6 1.5,4.7 .5,3.3-.2,3-2,8-1.6,4-4.1,7.9-5.6,14.9-2.8,6.1-4.1,6-4.1,3.6-7,3.9-9.1,3.6-10.8,2.8-12.2,2.2-14,1.5-13.1,.5-13-.6-14.1-1.6-11.9-2.1-11-3-9.1-3.8-6.8-4-4.2-4-3.7-6-7.9-20-4.1-7.9-1.6-4-2.1-9 .5-6 1.8-5 3.1-5.4 3.9-5.5 4.4-5 5.7-5.5 6-4.8 3-1.9 6.2-2.8M568.9,28l9.9,2.3 6.5,2.7 9.3,6 8,7 6.9,7.9 5.2,8 1,3 .5,3-.3,3-1,3.1-3,6.2-4,4.8-18,16.8-5.1,3.8-5.1,3.2-9.4,4-11.5,3-13,1.8-14.1,.6-14-.7-13-1.9-11-3-9-3.9-5-3-5.1-3.9-18-16.8-4-4.8-3-6.3-1-3-.3-3 .5-3 1-3 5.2-8 6.9-7.9 8-7 9.3-6 6.5-2.7 9.9-2.3M519,33l13.8-.7 16,1.1 13.8,2.6 11.2,3.9 6,3.1 6.2,4 15.9,12.9 2.7,3 1.7,3 .3,3-.6,2-3.1,4-5,4.2-5,2.6-7.1,2.3-12,2.7-15,2.3-14,1.4-12,.4-12.1-.3-13-1.2-14-2.1-13-2.7-8.1-2.4-5-2.4-5-3.9-3.5-3.9-1.2-3 .1-2 .7-2 1.9-3 11-9.6 9.9-7.3 8.2-4.6 8.8-3.4 9.2-2.4 11.3-1.6M517.3,56.9l9.4-.8 9.1-.1 9,.7 11,1.5 11,2.2 8.4,2.5 5.6,2.9 1.1,1.1 .4,1-.5,1.1-2.5,1.9-5.5,2-6,1.4-16,2.5-18,1-16.1-.5-17-2.2-7-1.4-6-1.8-3-1.3-2.2-1.7-.3-1 1.3-2 3.4-2 3.8-1.5 12-3.1 14.6-2.4" fill="none" stroke="#fff" stroke-opacity="0.75" stroke-width="0.9" mask="url(#maskb)"/>
<g fill="#fff" font-size="15.6" fill-opacity="0.78"><text x="606.2" y="69.8" text-anchor="middle" textLength="26.7" lengthAdjust="spacingAndGlyphs">110</text><text x="602.1" y="83.6" text-anchor="middle" textLength="26.7" lengthAdjust="spacingAndGlyphs">100</text><text x="531.7" y="122.4" text-anchor="middle" textLength="17.8" lengthAdjust="spacingAndGlyphs">90</text><text x="531.7" y="139.3" text-anchor="middle" textLength="17.8" lengthAdjust="spacingAndGlyphs">80</text><text x="458.6" y="138.8" text-anchor="middle" textLength="17.8" lengthAdjust="spacingAndGlyphs">60</text><text x="454.3" y="157.3" text-anchor="middle" textLength="17.8" lengthAdjust="spacingAndGlyphs">50</text><text x="623.9" y="123.4" text-anchor="middle" textLength="17.8" lengthAdjust="spacingAndGlyphs">70</text><text x="619.9" y="141.7" text-anchor="middle" textLength="17.8" lengthAdjust="spacingAndGlyphs">60</text><text x="619.9" y="158.3" text-anchor="middle" textLength="17.8" lengthAdjust="spacingAndGlyphs">50</text></g>
</g>
<path d="M389.5,193.6H675.0M389.5,28.0H675.0" stroke="#222" stroke-width="1" fill="none"/>
<path d="M389.5,28.0V193.6M675.0,28.0V193.6" stroke="#111" stroke-width="1" fill="none"/>
<path d="M385.1,193.60H389.5M385.1,172.90H389.5M385.1,152.20H389.5M385.1,131.50H389.5M385.1,110.80H389.5M385.1,90.10H389.5M385.1,69.40H389.5M385.1,48.70H389.5M385.1,28.00H389.5M389.50,193.6V197.8M437.08,193.6V197.8M484.67,193.6V197.8M532.25,193.6V197.8M579.83,193.6V197.8M627.42,193.6V197.8M675.00,193.6V197.8" stroke="#222" stroke-width="1" fill="none"/>
<g font-size="12.4" fill="#333" stroke="#fff" stroke-width="0.25"><text x="381.0" y="198.1" text-anchor="end">40</text><text x="381.0" y="177.4" text-anchor="end">45</text><text x="381.0" y="156.7" text-anchor="end">50</text><text x="381.0" y="136.0" text-anchor="end">55</text><text x="381.0" y="115.3" text-anchor="end">60</text><text x="381.0" y="94.6" text-anchor="end">65</text><text x="381.0" y="73.9" text-anchor="end">70</text><text x="381.0" y="53.2" text-anchor="end">75</text><text x="381.0" y="32.5" text-anchor="end">80</text><text x="389.5" y="210.0" text-anchor="middle">90S</text><text x="437.1" y="210.0" text-anchor="middle">60S</text><text x="484.7" y="210.0" text-anchor="middle">30S</text><text x="532.2" y="210.0" text-anchor="middle">EQ</text><text x="579.8" y="210.0" text-anchor="middle">30N</text><text x="627.4" y="210.0" text-anchor="middle">60N</text><text x="675.0" y="210.0" text-anchor="middle">90N</text></g>
<text x="532.2" y="229.1" text-anchor="middle" font-size="16.8" fill="#333" stroke="#fff" stroke-width="0.4" textLength="138.5" lengthAdjust="spacingAndGlyphs">Latitude (degree)</text>
<text transform="translate(358.0,110.8) rotate(-90)" text-anchor="middle" font-size="16" fill="#333" stroke="#fff" stroke-width="0.4" textLength="100" lengthAdjust="spacingAndGlyphs">Altitude (km)</text>
<clipPath id="clipc"><rect x="51.0" y="261.0" width="278.0" height="166.0"/></clipPath>
<g clip-path="url(#clipc)">
<rect x="51.0" y="261.0" width="278.0" height="166.0" fill="#a000c0"/>
<path fill="#6a00dc" fill-rule="evenodd" d="M50.5,261.5l279,0 0,165.5-279,0 0-165.5zM177.5,267.4l-7,1.6-7,3.8-6.7,5.6-4.1,6-2.1,7-.2,8 1.4,7 3.5,8.9 3.1,5 4.4,4 5.5,3 8.2,2.7 8,1.5 8,.2 8-1.1 6.7-2.3 4.5-3 3.3-4 8.9-20.9 1.7-6 .7-5-.3-4-1.4-4-2.8-3.9-4.3-3.9-5-3.2-5-2-4-.8-6-.5-20,.3z"/>
<path fill="#1e50ff" fill-rule="evenodd" d="M50.5,261.5l106.1,0-10.1,13.5-2.3,4.4-1.4,5-.5,8 .7,9 1.9,9 2.6,7.6 2,3.6 3,3.3 3.3,2.4 4.7,2.3 6,2 8,2 8,1.2 7,.4 8-.5 7-1.2 5.9-2.2 4.6-3 3.1-3 2.2-3 13.8-23.9 1.4-4 .9-5 0-5-.7-4-3.2-6.7-9.2-12.2 106.2,0 0,165.5-279,0 0-165.5zM87.5,282.2l-2.1,1.2-1.9,2.5-1.2,3.5-.3,4 .7,4 1.5,3 2.3,1.9 2,.4 3-1.1 2-2.2 1.7-4 .5-5-.9-4-2-3-2.3-1.3-3,.1zM292.5,282.3l-2.1,1.1-2.2,3-1.2,4 0,4 .7,3 1.8,3.1 3,2.1 3,.2 3-1.5 2-2.7 1.2-4.2-.1-4-1.1-3.4-2-2.9-3-1.8-3,0z"/>
<path fill="#00a8f0" fill-rule="evenodd" d="M50.5,261.5l87.3,0-3.8,14-.7,4.9 .1,4 5.3,29.9 1.8,6 2.1,4 2.4,3 3.5,3 4,2.3 4.6,1.7 7.4,1.8 9,1.5 9,1 8,.3 9-.5 7-1.2 5-1.8 5-3 6.7-6.1 9.3-12.3 8.6-8.6 3.2-4 1.5-3 .8-3 .5-10-1.3-9.9-3.6-14 87.3,0 0,165.5-279,0 0-165.5zM86.5,276.2l-4,2.6-3,4.3-1.7,5.3-.3,6 1,5.3 2.4,4.7 3.6,3.4 4,1.1 3-.8 2-1.2 3.8-4.5 2.7-7 .6-7-1.3-6-2.8-4-2-1.5-3-1.1-3-.1-2,.5zM291.5,276.2l-4,2.2-2,2.4-1.4,2.6-1.5,6 .2,7 1.7,5 3.1,4 3.9,2.4 2.3,.6 2.7-.1 2-.5 2.4-1.4 3.3-4 1.9-6 0-7-1.9-6-3.7-4.6-4-2.3-3-.5-2,.2z"/>
<path fill="#00ccb4" fill-rule="evenodd" d="M50.5,261.5l46.6,0-.9,2-1.7,2.1-9,4.5-5,4-3.6,5.3-2.2,6-.8,8 1.4,8 1.7,4 1.9,3 2.6,2.9 3,2.1 3,1.1 2,.2 4-1.3 3-2.1 2.7-2.9 7.3-11.4 2-2.1 4-1.4 6,.5 4,1.7 3.4,3.7 2.5,6 2.9,12.9 2.1,6 2.4,4 2.4,3 6.3,5.4 6,3 7,1.6 20,1.7 15,.5 13-.8 4-1 5-2.4 9.3-7 15.7-14.7 16-12.2 3.8-4 2.1-4 .8-4 .7-9 1.6-4.8 3-3.5 5-2.5 4-.3 1.2,1.2 .3,3-1,10.9 0,6 1.6,6 3.1,5 4.8,4.6 5,2.6 3,.7 3,0 5-1.6 2-1.5 2.5-2.8 2-4 1.1-4 .6-5-.1-4-.6-4-1.3-4-1.6-3-2.6-3.5-3-2.7-3-2-6-2.1-8.1-.6-1.9-.8-.8-2.2-.2-4 48,0 0,165.5-279,0 0-165.5zM241.5,356l-2.4,1.2-2.1,2-1,2-.1,2 1.1,2 1.5,1 3,.6 3-.3 2.7-1.3 2-2 .8-2-.2-2-1.5-2-1.8-1-2-.5-3,.3z"/>
<path fill="#00d84c" fill-rule="evenodd" d="M50.5,261.5l26.4,0-5,15-1.6,5.9-.8,8 .3,7 1.1,5 2,5 8.1,12.9 2.3,5 .8,5 0,10 .4,4.9 1.4,5 2.9,5 5.7,6 5,3 3,.6 2-.3 2-1.2 .9-1.1 1.2-4-.6-6-2.3-7-5.3-11.9-.7-5 1.2-4 3.6-4.2 4-2 3.2,.2 1.8,.9 2.3,2.1 6.5,9 10,11 2.3,3.9-.1,2-1.1,1-6.9,2.4-3,1.7-1.7,1.9-1.1,3 0,5 1.7,5 1.1,1.5 2,1.4 3,.7 3-.4 5-1.6 5.6-2.6 2.2-2 1.1-2 2.2-7 1.9-1.3 4-1.2 9-1.7 9-.8 38,.9 4-.5 2-1.4 4.8-5.9 5.1-5 5.1-4 10-6.4 12-10.6 8-5 7-2.7 5-.4 4,1.1 14,8.6 12,6.2 5,.7 4-1.3 2-1.5 2-2.6 3.2-8.1 3.1-11.9 .5-6-.2-5-1.1-5-2.6-5-11.4-13.9-2.6-4 25.1,0 0,165.5-279,0 0-165.5zM243.5,350l-18,6.8-3.6,2.4-1.4,3 .3,3 1.9,4 2.8,3 3,1.9 4,1.3 4,.2 4-.4 5-1.3 4-1.6 4-2.5 3-2.8 2-3 1.3-3.8 0-3-1.3-3-3-2.7-4-1.7-4-.3-4,.5zM291.5,343l-2,1-1.1,1.2-1.3,3-.5,3 .5,4 1.4,4.3 1,1.8 1,1 1,.2 1-.4 1.4-2.9 .8-8-.8-6-1.3-1.9-1.1-.3z"/>
<path fill="#56e01a" fill-rule="evenodd" d="M50.5,261.5l5.6,0-2,4-3.6,3.4 0-7.4zM325,261.5l4.5,0 0,5.5-2.5-2.5-2-3zM50.5,295.4l2.6,2 2.4,2.7 12,17.3 2.6,4.9 1.4,5 .5,9-.9,8.9-2.4,6-5.3,7-1.7,3-.7,4 1.2,4 1.7,2 2.6,1.8 3,1.2 3,.5 3-1 6-5.4 2-.5 2,.9 1.8,2.5 3.2,5.9 5.2,5 6.9,9 11.2,9 8.7,10.4 3,2 3,.7 2-.2 2.4-1 2.3-1.9 1.4-2 1.7-5 1.9-14 2.3-4.9 3.3-4.1 14.7-13.2 4-2.9 3.9-1.8 3.1-.8 8-.7 13,1 3,1.2 9,8.9 10,9.1 9,9.3 8,6.5 8,10.4 3,3.2 3,2.1 3,1.2 3,.1 2.5-.7 1.7-1 1.9-1.9 1.6-3 .7-3-.3-8-2.5-11 .4-3.6 2.3-3.4 8.7-9.6 2-1.5 2,0 2,1.8 6.4,15.3 2.5,4 2.1,2.2 3,1.9 3,.6 3-.4 3-1.9 1-3.2-.3-10.1 .7-5 .8-2 1.8-1.7 4,.8 1.2-1.1 .9-5 .7-13 1.3-5 3-3.9 7.1-5 3.3-3 2.8-4 3.7-7.2 0,104.9-273.3,0-2-4-3.7-3.4 0-124.2zM265.7,317.3l5.8-.4 5,1.7 4.5,3.7 1.2,2 .8,3-.1,3-.8,3-3,6-4.6,5.5-3,2.1-2,.5-5-.8-7-3.6-4.1-3.7-1.6-4 0-3 .7-3 2.6-5 4.4-4.1 6.2-2.9zM201.3,355.2l2.5,0 2.7,.8 1.4,1.2 0,1-1.4,1.6-3,1.2-5,.6-3-.7-.5-1.7 1.2-2 2.3-1.3 2.8-.7z"/>
<path fill="#c8e032" fill-rule="evenodd" d="M265.4,324.3l3.1-.6 2.9,.6 2.1,1.6 1.3,2.4 .1,3-1.4,3.5-2,2.1-3,1.4-3-.1-2-.9-2-1.9-1-2.1-.1-3 .7-2 1.4-2 2.9-2zM81.8,375.2l.7-.2 1,.5 .8,1.7 .3,5.9-.8,4-1.3,2.8-1,1.4-2,.8-1-.6-1-2.4 0-5 1.8-6 1.2-2 1.3-.9zM301.5,376.2l1-.6 1,.9 1.1,2.6 .1,5-.2,.7-1,.5-1-1-1-2.5-.4-2.7 .4-2.9z"/>
<mask id="maskc" maskUnits="userSpaceOnUse" x="0" y="0" width="685" height="504"><rect x="0" y="0" width="685" height="504" fill="white"/><rect x="173.7" y="264.0" width="31.7" height="15" fill="black"/><rect x="169.7" y="309.8" width="31.7" height="15" fill="black"/><rect x="221.7" y="315.8" width="31.7" height="15" fill="black"/><rect x="172.7" y="332.8" width="31.7" height="15" fill="black"/><rect x="167.6" y="345.7" width="22.8" height="15" fill="black"/><rect x="176.1" y="360.7" width="22.8" height="15" fill="black"/><rect x="271.1" y="349.7" width="22.8" height="15" fill="black"/><rect x="111.1" y="361.7" width="22.8" height="15" fill="black"/><rect x="269.1" y="363.7" width="22.8" height="15" fill="black"/><rect x="96.1" y="380.6" width="22.8" height="15" fill="black"/><rect x="264.1" y="380.6" width="22.8" height="15" fill="black"/></mask>
<path d="M95.5,263.5V427.0M142.5,263.5V427.0M190.5,263.5V427.0M238.5,263.5V427.0M285.5,263.5V427.0M52.0,282.5H329.0M52.0,324.5H329.0M52.0,365.5H329.0M52.0,406.5H329.0" fill="none" stroke="#909090" stroke-opacity="0.45" stroke-width="1" stroke-dasharray="1 4.6"/>
<path d="M328.2,261.5l4.3,29.9M47.5,291.4l4.3-29.9M320.2,261.5l12.3,59.8M47.5,321.3l12.3-59.8M312.6,261.5l8.4,31.9 6.7,34.9 4.8,16.2M47.5,344.5l4.8-16.2 6.7-34.9 8.4-31.9M305.3,261.5l8.8,26.9 2.1,8 5.3,32.9 5.4,26.9 4.9,53.9 .7,16.9M47.5,427l.7-16.9 4.9-53.9 5.4-26.9 5.3-32.9 2.1-8 8.8-26.9M298.3,261.5l10.2,26.9 2.7,9 2.8,18.9 3.2,27.9 .8,16-1.2,18.9-2.2,19-.1,28.9M65.5,427l-.1-28.9-2.2-19-1.2-18.9 .8-16 3.2-27.9 2.8-18.9 2.7-9 10.2-26.9M291.5,261.5l11.7,26.9 2.9,9 2.6,19.9 1.3,21 0,10.9-.7,11-3.6,18.9-5.8,20-1.5,27.9M81.6,427l-1.5-27.9-5.8-20-3.6-18.9-.7-11 0-10.9 1.3-21 2.6-19.9 2.9-9 11.7-26.9M284.9,261.5l4.2,8 8.9,18.9 3.2,9 1,6 1.2,12.9 .5,18-.7,11.9-1.5,10-1.1,5-5.4,17.9-7.7,16-1.5,4-2.8,27.9M96.8,427l-2.8-27.9-1.5-4-7.7-16-5.4-17.9-1.1-5-1.5-10-.7-11.9 .5-18 1.2-12.9 1-6 3.2-9 8.9-18.9 4.2-8M278.3,261.5l4.7,8 9.8,18.9 2.3,5 1.2,4 1.1,7 1,12.9-.4,18-1.1,8.9-3.1,13-1.7,5-6.6,15.8-6.5,10.1-6.4,8-2.3,4-3,14.9-1.8,12M114.5,427l-1.8-12-3-14.9-2.3-4-6.4-8-6.5-10.1-6.6-15.8-1.7-5-3.1-13-1.1-8.9-.4-18 1-12.9 1.1-7 1.2-4 2.3-5 9.8-18.9 4.7-8M271.5,261.5l5.4,8 10.9,18.9 2.8,6 1.4,5 1.1,11.9 .1,13-1.1,12-2.3,9.9-3.6,11-2.7,5.8-8,14.3-2,2.7-2,1.9-7,5.4-6,3.3-8,2.8-17.2,4.7-3.8,1.6-1.9,1.4-2.9,5-2,5.9-1,7-.1,8M157.6,427l-.1-8-.9-7-2-5.9-2.8-5-2.3-1.7-3.2-1.3-16.8-4.6-8-2.9-6-3.3-7.9-6.2-1.8-2-2-2.9-8.2-15-2.1-4.9-3.6-11.1-2.1-9.9-1.1-13 .3-13.9 1.2-10 1.6-5 2.7-5.5 10.6-18.4 5.4-8M264.1,261.5l6.5,8 12.1,18.9 3.4,7 1.5,6 .6,8 .1,9.9-.6,8-1.1,7-1.4,6-1.7,4.9-6.9,15-5.1,7.5-6,7-4.2,3.4-5.8,2.7-6,1.5-9,1.5-38,4.9-13,.8-13-.8-38-5.1-9-1.5-6-1.7-4.8-2.3-4.7-3.9-5.5-6.5-5.7-8.5-6.7-15-1.6-4.9-1.3-6-1.1-8-.4-7 .2-9.9 .6-8 1.7-6 3.1-6 12.1-18.9 6.5-8M255.1,261.5l7.4,6.7 8,10.2 8.3,12 2,4 1.4,4 .6,4 .3,8-.1,7.9-.6,6-1.2,7-1.5,6-1.4,4-2.5,4.9-6.9,11-4.4,5.3-7,5.9-7.1,3.8-8.9,2.6-13,2-23,2.2-16,.6-16-.6-22-2.1-13-2.1-8.9-2.6-7.1-3.8-7-5.9-4.4-5.3-6.9-11-2.5-4.9-1.4-4-1.5-6-1.2-7-.6-6-.1-7.9 .3-8 .6-4 1.4-4 2-4 8.3-12 8-10.2 7.4-6.7M240.5,261.5l9,4.2 7,5.2 7,7.2 6,7.2 4,5.4 2.5,4.7 1.2,4 .4,4-.5,14.9-1.8,10-3.6,10-4.2,6.6-6,6-8,6.1-9,4.4-10,3-14,2.6-16,1.7-15,.6-15-.7-16-1.8-13-2.4-10-3-9-4.4-8-6.1-6-6-4.2-6.6-3.6-10-1.8-10-.5-14.9 .4-4 1.2-4 2.5-4.7 4-5.4 6-7.2 7-7.2 7-5.2 9-4.2M176.1,263.5l14.4-.4 15,.5 13,1 11,1.8 8,2.1 6,2.5 8,4.7 6,4.7 6,5.9 4.2,5.1 2.6,5 1,5-.5,9-2.3,11.4-3.4,8.5-4.6,6.7-3.3,3.3-4.7,3-6,2.6-7,2.1-9,2-12,1.7-12,1.2-12,.6-11,0-12-.7-12-1.3-11-1.7-9-2-7-2.2-5.1-2.3-4.9-3.3-4-4.2-3.6-5.5-2.6-6-1.8-6.5-1.5-9.4-.2-8 1.3-5 2.2-4 5.2-6.2 7-6.5 7-4.9 7-3.8 7-2.4 8-1.8 10-1.4 12.6-.9M171.2,272.5l19.3-.9 20,1 17,2.5 7,1.7 7,2.4 6,2.9 5.3,3.3 4.8,4 2.9,3.6 1.6,3.4 .7,4-.6,4-1.3,4-3.4,6.3-4,5.6-4,4-5,3.6-6,3.2-7,2.6-9,2.4-9,1.6-11,1.2-12,.4-12-.3-11-1.1-11-2-9-2.5-7.7-3.1-6.3-3.7-4.1-3.3-3.9-4.2-4-6-2.4-4.7-1.5-5-.3-4 .9-4 1.7-3 3.6-4 5-3.9 5.2-3.1 5.8-2.6 7-2.3 7-1.6 17.7-2.4M180,281.4l12.5-.2 14,.6 13,1.5 10,2.1 8.8,3 5.1,3 2.4,3 .5,2-.2,2-1.7,3-3.9,3.3-6,3.2-7,2.6-9,2.4-9,1.8-10,1.2-9,.4-9-.3-10-1.2-9-1.6-9-2.4-7-2.5-6-2.9-3.9-3-2.3-3-.6-3 1-3 3.3-3 6-3 6.5-2 9-1.9 10-1.3 10.5-.8M184.5,296.9L194.0,296.9" fill="none" stroke="#fff" stroke-opacity="0.75" stroke-width="0.9" mask="url(#maskc)"/>
<g fill="#fff" font-size="15.6" fill-opacity="0.78"><text x="189.5" y="277.1" text-anchor="middle" textLength="26.7" lengthAdjust="spacingAndGlyphs">100</text><text x="185.5" y="322.9" text-anchor="middle" textLength="26.7" lengthAdjust="spacingAndGlyphs">110</text><text x="237.5" y="328.9" text-anchor="middle" textLength="26.7" lengthAdjust="spacingAndGlyphs">110</text><text x="188.5" y="345.9" text-anchor="middle" textLength="26.7" lengthAdjust="spacingAndGlyphs">100</text><text x="179.0" y="358.8" text-anchor="middle" textLength="17.8" lengthAdjust="spacingAndGlyphs">90</text><text x="187.5" y="373.8" text-anchor="middle" textLength="17.8" lengthAdjust="spacingAndGlyphs">80</text><text x="282.5" y="362.8" text-anchor="middle" textLength="17.8" lengthAdjust="spacingAndGlyphs">70</text><text x="122.5" y="374.8" text-anchor="middle" textLength="17.8" lengthAdjust="spacingAndGlyphs">60</text><text x="280.5" y="376.8" text-anchor="middle" textLength="17.8" lengthAdjust="spacingAndGlyphs">60</text><text x="107.5" y="393.7" text-anchor="middle" textLength="17.8" lengthAdjust="spacingAndGlyphs">50</text><text x="275.5" y="393.7" text-anchor="middle" textLength="17.8" lengthAdjust="spacingAndGlyphs">50</text></g>
</g>
<path d="M47.5,427.0H332.5M47.5,261.5H332.5" stroke="#222" stroke-width="1" fill="none"/>
<path d="M47.5,261.5V427.0M332.5,261.5V427.0" stroke="#111" stroke-width="1" fill="none"/>
<path d="M43.1,427.00H47.5M43.1,406.31H47.5M43.1,385.62H47.5M43.1,364.94H47.5M43.1,344.25H47.5M43.1,323.56H47.5M43.1,302.88H47.5M43.1,282.19H47.5M43.1,261.50H47.5M47.50,427.0V431.2M95.00,427.0V431.2M142.50,427.0V431.2M190.00,427.0V431.2M237.50,427.0V431.2M285.00,427.0V431.2M332.50,427.0V431.2" stroke="#222" stroke-width="1" fill="none"/>
<g font-size="12.4" fill="#333" stroke="#fff" stroke-width="0.25"><text x="39.0" y="431.5" text-anchor="end">40</text><text x="39.0" y="410.8" text-anchor="end">45</text><text x="39.0" y="390.1" text-anchor="end">50</text><text x="39.0" y="369.4" text-anchor="end">55</text><text x="39.0" y="348.8" text-anchor="end">60</text><text x="39.0" y="328.1" text-anchor="end">65</text><text x="39.0" y="307.4" text-anchor="end">70</text><text x="39.0" y="286.7" text-anchor="end">75</text><text x="39.0" y="266.0" text-anchor="end">80</text><text x="47.5" y="443.4" text-anchor="middle">90S</text><text x="95.0" y="443.4" text-anchor="middle">60S</text><text x="142.5" y="443.4" text-anchor="middle">30S</text><text x="190.0" y="443.4" text-anchor="middle">EQ</text><text x="237.5" y="443.4" text-anchor="middle">30N</text><text x="285.0" y="443.4" text-anchor="middle">60N</text><text x="332.5" y="443.4" text-anchor="middle">90N</text></g>
<text x="190.0" y="462.5" text-anchor="middle" font-size="16.8" fill="#333" stroke="#fff" stroke-width="0.4" textLength="138.5" lengthAdjust="spacingAndGlyphs">Latitude (degree)</text>
<text transform="translate(16.0,344.2) rotate(-90)" text-anchor="middle" font-size="16" fill="#333" stroke="#fff" stroke-width="0.4" textLength="100" lengthAdjust="spacingAndGlyphs">Altitude (km)</text>
<clipPath id="clipd"><rect x="392.9" y="261.0" width="278.3" height="166.0"/></clipPath>
<g clip-path="url(#clipd)">
<rect x="392.9" y="261.0" width="278.3" height="166.0" fill="#a000c0"/>
<path fill="#6a00dc" fill-rule="evenodd" d="M392.5,261.5l279.5,0 0,165.5-279.5,0 0-165.5zM527.7,308.3l-5,1.2-6,2.3-4,2.1-3,2.4-1.5,2-.8,3 1,3 1.7,2 4.4,3 5.2,1.9 7,1.4 7.1,.3 7-.8 7-1.9 5.5-2.9 2.8-3 .8-3-.9-3-2.2-2.6-3.3-2.4-5.7-2.7-6-1.8-6-.9-5.1,.4zM639.9,334.2l-2,.7-3,2.9-2,3.4-1.6,4-.8,4 0,4 .7,2 1.7,1.5 2-.3 3-2.6 2-3.2 1.7-4.4 .9-3.9 .2-4-.8-2.9-1-1-1-.2z"/>
<path fill="#1e50ff" fill-rule="evenodd" d="M392.5,261.5l279.5,0 0,165.5-279.5,0 0-165.5zM525.7,303.2l-8,2.5-8,3.5-5,3.2-3.7,3.9-1.3,4 .8,4 3,4 5.2,3.9 6,2.7 8,1.8 9,.7 9.1-.6 8-1.5 6-2.2 5.9-3.8 3.4-4 1-4-1.2-4-3.3-4-4.8-3.3-9-4.2-9-2.8-6.1-.6-6,.8zM640.9,325l-4,2.7-4,5-3.9,7.6-2.5,6.9-1.1,6 .1,5 1.4,4 1,1.2 2,1.2 2,.3 2-.5 3-2 2-2.1 4-6.5 3.2-8.6 1.8-8.9-.3-7-.7-2-2-2.2-2-.5-2,.4z"/>
<path fill="#00a8f0" fill-rule="evenodd" d="M392.5,261.5l279.5,0 0,165.5-279.5,0 0-165.5zM432.6,341.1l-2.4,2.2-1.3,3.9 .1,5 1.3,5 2.3,4.2 3,2.9 3,1.3 3-.2 2.8-2.2 1.2-2.7 .2-3.3-.9-4-2.5-5-3.8-4.8-3-2.1-3-.2zM527.7,293.2l-7,2.6-13,7.1-8,5.4-3.9,4-2,5 0,5 1.9,5 4,4.7 7,5.3 7,3.3 8,1.6 12.1,.5 12-.8 8-1.7 8-3.8 7-5.6 3-4.5 .9-3 .1-3-1.6-5-4.1-4.9-9.3-6.8-16-8.7-7-2.1-4.1-.1-3,.5zM642.9,317l-3,1.4-2,1.6-5,6.2-6.7,13.1-4.1,10.9-1.2,7 .7,6 2.3,4.4 2,1.8 2,1 3,.4 3-.7 3-1.8 3-3 3-4.2 2.6-4.9 4.3-12 2.6-11.9 .2-5-.5-4-1.1-3-2-2.4-3.1-1.2-3,.3z"/>
<path fill="#00ccb4" fill-rule="evenodd" d="M392.5,261.5l69.8,0 1.4,3 2.2,3 12.8,10 11.6,12.9 2.8,4 .7,2 0,3-3.8,11-.8,7.9 .4,4 1.1,4.4 2,4.6 2,3 3,3.4 6,5.4 7,4.6 7,1.9 14,.5 16.1-.3 9-1.2 9-2.8 3-1.7 3-2.6 3-4.7 2-5.5 1.2-6 .4-6-.5-5-1.1-3.8-5.8-11.1 .1-4 2.4-4 12.3-13.7 12.8-10.2 2.2-3 1.4-3 69.8,0 0,165.5-279.5,0 0-165.5zM428.6,333.2l-2,1.6-1.6,2.5-1.2,3-.6,3.9 .6,8 2.5,8 3.4,6 4.9,4.4 5,1.7 3-.1 2-.6 2-1.2 2-2.1 2.1-4.1 .3-5-1.4-5-5-9-7-8.9-3-2.5-2-.9-2-.3-2,.6zM575.8,351.1l-1.3,2.1-.1,2 .6,2 1.6,2 2.2,1.1 2,.3 2.2-.4 1.8-1.2 1-1.7 .1-1.1-.8-2-1.3-1.5-4-2.2-2-.2-2,.8zM644.9,308.2l-3,1.2-3,2-3,3.2-2,2.9-13.3,27.7-3.6,9-.8,4 0,3 1.5,6 1.7,3 2.5,2.8 2,1.5 3,1.4 4,.3 4-1.2 4-2.7 4-4.5 3.5-5.6 2.8-6 6.1-18.9 1.4-6 .6-6-.2-5-1.1-4.8-2-3.9-2.2-2.2-2.8-1.4-4.1,.2z"/>
<path fill="#00d84c" fill-rule="evenodd" d="M392.5,261.5l27.6,0 .4,13 1.4,6.9 1.2,3 2.2,3 2.3,1.9 2,.9 2,.3 3-.3 14-5.2 5-1 4-.1 5,.5 5,1.4 5,2.6 4.1,3 4.5,5 2.7,5 1.2,5 1.3,15.9 1.7,8 7,20.9 1.2,2 2.7,2 7.2,3 7.5,1.5 32.1,.5 8,.9 5,1.7 10,5.6 6,1.7 6-.3 6-1.9 7.1-3.7 2.3-2 1.1-2 0-2-.8-2-2.3-3-9.5-9.9-1.8-3-1.2-4-.2-7 1.2-21.9 1-5 2.1-4.7 3.6-4.3 4.5-3.6 5-2.6 5-1.4 6-.6 5,.5 5,1.3 6,2.6 6,3.5 2.3,2.3 .9,3-.6,4-5.3,16.9-4.6,12-5.7,11.3-9.3,14.6-1.1,4 .8,3 1.6,3 3.5,5 3.5,4.1 6,4.5 3,1.1 3,.4 4-.7 4-2.2 7.1-7.2 3.5-5 3.7-8 3.3-9 5.2-15.9 1.8-9 .3-5-.4-6-1.1-5.9-2-6-3.3-6.2-7.4-6.8-2.2-4-1.3-10.9-.6-13 27.5,0 0,165.5-279.5,0 0-165.5zM427.6,321.3l-3,.8-3,2.8-2.8,4.4-1.9,5-1,4-.2,4 .4,3.9 1.6,6 5.2,13 2.7,4.3 3.1,3.7 3.9,3 5,2.2 4,.6 4-.6 5-2.8 3.7-4.4 1.3-3 1.1-4 .1-3-.4-2-3.1-6-17.7-25.5-4-4.4-2-1.4-2-.6z"/>
<path fill="#56e01a" fill-rule="evenodd" d="M399.9,290.4l3.6-.2 2,.9 2,1.8 3.4,5.5 1.6,7-.7,6.9-2.3,6-3,4-2,1.4-2,.7-3-.4-3-2.3-2.2-3.4-1.8-5.2 0-11.5 .6-2.2 1.4-3.6 1.6-2.4 1.4-1.5 2.4-1.5zM456.2,290.4l4.4,0 5,1 4,1.7 4,2.7 3.1,3 2.4,3.6 1.8,4 1.4,5.9 3.2,23 .1,4-.5,3-2.1,3.9-3.2,3-8.2,5.6-4,1.7-3-.1-4-1.8-4-3.2-5-5.5-5.5-7.6-5.4-9-3.2-7-1.7-6-.6-5 .4-3.9 1.4-4 2.6-4 4-3.9 4-2.5 4-1.7 4.6-.9zM606.3,291.4l4.6,0 4,.9 4,1.8 3.2,2.3 2.7,3 1.6,3 1.1,4 .2,4.9-1.1,7-1.9,7-3.3,8-3.5,6.3-4,5.4-4,3.7-4,2-3,.3-4-1-4-2.4-4.1-3.4-3.2-3.9-1.6-3-1.1-4-.5-5 .1-6 1.8-12.9 1.3-4 2.3-4.1 3-3.6 4-3.1 4-1.9 5.4-1.3zM671.8,302.4l.2-.9 0,114.2-2-2-2-.9-3-.2-3,.9-12.5,8.5-1.8,2-1.6,3-72.9,0 1.6-2 .8-2-.1-2-.9-2-2-2-2.8-1.4-6-.9-7,1.2-6,2.7-4,3.4-2.7,5-37.6,0 .9-4 .1-3-.5-3-1.3-3-2-2.6-3-2.1-3-1-3-.3-3,.4-3,1.2-3,2.2-2,2.2-1.7,3-1,3-.7,7-80.6,0-.2-13-.8-5.9-2.2-5.3-4-3.9 0-26.4 4-3.3 6-7 3-1.7 3,.2 3,2.2 8.2,12.3 5.9,6.1 7,4.5 4,1.7 4,1 4,.1 4-.7 4-1.9 4-3.1 1.5-1.8 .9-2 .2-6.9 .8-4 1.6-3 2-1.2 2,.6 3,2.2 6,1.2 13.1,5.5 6,1.4 8,.5 45.1,.3 6,.9 13,3.2 6,.7 4-.1 4-.9 3-1.5 6.3-4.8 3.5-2 4.3-1.4 4-.1 3,.8 3,1.9 8.5,8.7 10.5,8.6 5,1.8 5-.8 3-1.7 2-2.1 2.2-5.8 1.8-3.1 2.1-1.9 4.8-2.9 2-2 3.8-8 9.7-25.9 2.4-8 1.2-8 .2-13.9 .7-5z"/>
<path fill="#c8e032" fill-rule="evenodd" d="M454,295.4l3.6-.6 4,.1 4,.9 4,2 3,2.3 2.9,3.3 2.2,3.8 1.4,4.1 1.4,7 1.3,10 .1,6-.5,4-1.7,3.9-2.8,3-4.3,2.9-4,1.6-4,.5-3-.5-4-2.1-3-2.5-4-4.6-4.2-6.2-3.1-6-2.2-6-.9-5-.1-4 .5-3.9 1.4-4 1.8-3 2.8-3 4-2.7 3.4-1.3zM605.9,295.4l4,0 4,.9 3,1.5 3.1,2.6 2.2,3 1.3,3 .9,4 0,4.9-.9,6-1.8,6-2.6,6-3.1,5-3.1,3.7-3,2.4-3,1.5-4,.6-3-.5-4-2-3-2.4-2.8-3.3-1.6-3-1.1-4-.5-9 .7-6 1.1-5 1.5-3.9 2.3-4 2.7-3 3.7-2.7 3-1.3 4-1zM596.3,375.2l3.6-.3 2.6,1.3 4.4,5.3 7.3,6.6 1.8,3 .7,3-.5,2-1.7,2-1.9,1-2.7,.6-5-.3-5-1.9-4.1-3.4-1.4-2-.9-3-.6-9 .8-2.9 2.6-2zM648.9,380.1l2.1-.1 .9,1.1 .1,1.1-1,1.4-1,.3-1.7-.8-.3-1.6 .9-1.4zM492,386.1l1.7-.8 2,0 1.6,.8 .5,1-.3,1-.8,.7-3,.4-1.9-1.1-.3-1 .5-1zM569.8,387.1l3-.2 2,.7 1.2,1.5-.1,1-1.1,1-2,.7-2,0-2-.7-1-1-.1-1 .5-1 1.6-1z"/>
<path fill="#e8bc32" fill-rule="evenodd" d="M454.9,299.4l3.7-.7 3,.1 4,1.1 2.9,1.5 2.5,2 2.5,3 3.2,6.8 1.1,5.1 .9,7 .1,6-.6,4-1.1,3-2.2,3-3.3,2.4-3,1.4-4,.7-3-.5-3-1.2-3-2.2-3-3.1-3.2-4.5-2.7-5-1.9-5-1.2-8 .4-4 1.1-3.9 1.7-3 2.7-3 2.9-2 2.5-1zM603.3,299.4l3.6-.7 4,.4 3,1.1 3,2.1 2.5,3.1 1.4,3 1,6.9-.4,5-1.3,5-1.9,5-2.3,4.1-3,3.8-3,2.5-3,1.5-3,.6-3-.3-3-1.2-2.9-2-1.9-2-1.9-3-1.1-3-.9-7 1-9 2.7-7.1 2-3 2.8-2.8 3.1-2 2.5-1z"/>
<path fill="#f08c2c" fill-rule="evenodd" d="M605.6,302.4l2.3-.1 3,.6 2.9,1.5 2.1,2 2.5,4.9 .6,3 .1,4-1.8,8-3.8,7-2.6,2.8-2,1.5-3,1.2-3,.3-3-.8-2-1.1-3.7-3.9-1.9-5-.5-7 1.4-7 3-5.9 4.1-4 2.6-1.3 2.7-.7zM456.5,303.4l3.1-.5 3,.3 5,2.3 4,4.4 2.7,6.4 1.3,9-.2,4-.8,3.9-1,2.2-2,2.6-2,1.5-3,1.3-3,.3-3-.6-2.5-1.2-2.5-2-4.6-6-2.9-7-1-7 1.2-6 1.3-2.6 2-2.5 2-1.5 2.9-1.3z"/>
<path fill="#f84040" fill-rule="evenodd" d="M603.2,307.4l2.7-.8 2,0 4,1.7 2.4,3 1.4,5-.4,6-2.4,6.1-2,2.7-2,1.8-4,1.6-4-.7-3-2.4-2-3.8-.8-4.3 .4-5 1.7-5 2.7-3.7 3.3-2.2zM457,309.4l3.6-.8 4,1.2 3,2.7 2,3.8 1.2,5-.2,6-2,4.6-3.1,2.4-3.9,.3-3-1.3-3.8-4-2.2-4.6-.9-5.4 .6-4 2.1-4 2.6-1.9z"/>
<mask id="maskd" maskUnits="userSpaceOnUse" x="0" y="0" width="685" height="504"><rect x="0" y="0" width="685" height="504" fill="white"/><rect x="519.9" y="262.0" width="31.7" height="15" fill="black"/><rect x="515.9" y="308.8" width="31.7" height="15" fill="black"/><rect x="515.9" y="323.8" width="31.7" height="15" fill="black"/><rect x="515.9" y="337.7" width="31.7" height="15" fill="black"/><rect x="620.5" y="311.8" width="22.8" height="15" fill="black"/><rect x="443.2" y="344.7" width="22.8" height="15" fill="black"/><rect x="600.5" y="344.7" width="22.8" height="15" fill="black"/><rect x="453.2" y="361.7" width="22.8" height="15" fill="black"/><rect x="518.3" y="361.7" width="22.8" height="15" fill="black"/><rect x="611.5" y="363.7" width="22.8" height="15" fill="black"/><rect x="438.2" y="380.6" width="22.8" height="15" fill="black"/><rect x="606.5" y="380.6" width="22.8" height="15" fill="black"/></mask>
<path d="M437.5,263.5V427.0M485.5,263.5V427.0M532.5,263.5V427.0M580.5,263.5V427.0M627.5,263.5V427.0M393.9,282.5H671.2M393.9,324.5H671.2M393.9,365.5H671.2M393.9,406.5H671.2" fill="none" stroke="#909090" stroke-opacity="0.45" stroke-width="1" stroke-dasharray="1 4.6"/>
<path d="M668.5,261.5l2.5,9.2 4,20.7M389.5,291.4l4-20.7 2.5-9.2M662.1,261.5l2.6,6 1.8,6 8.5,38.3M389.5,311.8l8.5-38.3 1.8-6 2.6-6M655.8,261.5l3.9,7 2.3,7 5.4,20.9 6,27.9 1.6,5.9M389.5,330.2l1.6-5.9 6-27.9 5.4-20.9 2.3-7 3.9-7M649.7,261.5l4.7,7 3.4,9 6.3,22.9 3.4,16.9 2.9,17 1.8,6 2.8,6.7M389.5,347l2.8-6.7 1.8-6 2.9-17 3.4-16.9 6.3-22.9 3.4-9 4.7-7M643.6,261.5l5.6,7 2.8,6 6.8,20.9 3,14 1.9,10.9 .7,14 .7,7 3.9,14.9 .9,5 4.2,44.9 .9,20.9M389.5,427l.9-20.9 4.2-44.9 .9-5 3.9-14.9 .7-7 .7-14 1.9-10.9 3-14 6.8-20.9 2.8-6 5.6-7M637.7,261.5l6.3,7 4,8 7.5,21.9 3.5,18.9 .4,7-1.6,19.9 2,16 .3,19.9-.1,7-1.1,12 0,27.9M405.6,427l0-27.9-1.1-12-.1-7 .3-19.9 2-16-1.6-19.9 .4-7 3.5-18.9 7.5-21.9 4-8 6.3-7M631.7,261.5l7.2,7 4.4,8 6.2,15.9 2,6 2,10 1.4,9.9 .1,4-.5,4-3.8,15-.9,4.9-.1,4 .5,10-.2,8-1.8,17.9-3.3,13-1.4,27.9M421,427l-1.4-27.9-3.3-13-1.8-17.9-.2-8 .5-10-.1-4-.9-4.9-3.8-15-.5-4 .1-4 1.4-9.9 2-10 2-6 6.2-15.9 4.4-8 7.2-7M625.9,261.5l8,7 2.7,4 2.3,4.4 6.6,15.5 2,6 2.2,11 1.1,9.9-.3,4-1,4-6.6,16-1.4,4.9-1.4,20-3.5,17.9-4,9-1.5,5-2.7,26.9M436.1,427l-2.7-26.9-1.5-5-4-9-3.5-17.9-1.4-20-1.4-4.9-6.6-16-1-4-.3-4 1.1-9.9 2.2-11 2-6 6.6-15.5 2.3-4.4 2.7-4 8-7M620,261.5l7.9,6 3,3.5 3.3,5.5 6.3,13.9 2.5,6 1.4,5 1.7,10.9 .5,8-.7,4-1.6,4-3.1,6-5.6,9-2.2,4.9-1,4-2.1,16-3.3,11.9-2.1,6-6.8,10-2,4-2.7,13.9-2,13M453.1,427l-2-13-2.7-13.9-2-4-6.8-10-2.1-6-3.3-11.9-2.1-16-1-4-2.2-4.9-5.6-9-3.1-6-1.6-4-.7-4 .5-8 1.7-10.9 1.4-5 2.5-6 6.3-13.9 3.3-5.5 3-3.5 7.9-6M614.1,261.5l8.7,6 3.7,4 3.1,5 8.2,16.9 2.5,7 1.5,9 .8,8.9-.7,5-1.8,4-3.1,5-8.6,11-3,4.9-1.5,4-3.3,16-4.6,10.9-2.1,3.3-4,4.7-7,4.2-8,3-17.2,4.8-3.8,2-4.1,5-2.7,5.9-1.5,7-.2,8M498.3,427l-.3-8-1.4-7-2.6-5.9-4-5-3.6-2-16.8-4.7-8-3.1-7-4.2-4-4.7-2.1-3.3-4.6-10.9-3.3-16-1.5-4-3-4.9-8.6-11-3.1-5-1.8-4-.7-5 .8-8.9 1.5-9 2.5-7 8.2-16.9 3.1-5 3.7-4 8.7-6M608,261.5l9.7,6 4.2,4.3 3.2,4.7 9.6,18.9 1.4,4 .9,4 1.5,12.9-.3,5-2.1,5-5.2,6.9-9.7,10.1-3.9,4.9-2,4-3.4,12-2,4.8-5,6.5-4,3.5-6,2.4-10.1,1.9-41,4.6-12.1,.6-13-.8-41-4.7-8.1-1.6-6-2.4-4-3.5-5-6.5-2-4.8-3.4-12-2-4-3.9-4.9-9.7-10.1-5.2-6.9-2.1-5-.3-5 1.5-12.9 .9-4 1.4-4 9.6-18.9 3.2-4.7 4.2-4.3 9.7-6M601.6,261.5l10.9,6 4.3,4 3.7,5 9.8,17.9 2.4,7 1.6,11.9-.1,7-.5,2-1.5,3-2.3,3-4.5,5-12.8,10.9-3.8,4-2.7,4-3.9,9-2.2,4-3.1,3.6-3.5,2.4-7.6,2.8-11,1.9-24,1.9-19.1,.6-19-.6-23-1.9-11-1.9-7.6-2.8-3.5-2.4-3.1-3.6-2.2-4-3.9-9-2.7-4-3.8-4-13.3-11.5-4.1-4.4-2.8-4-.9-2-.7-3 .2-8 1.7-10.9 2.7-7 9.3-16.9 3.7-5 4.3-4 10.9-6M594.2,261.5l11,5 3.4,2 2.3,2 5,6 9,15.3 3.4,7.6 1.5,8 .5,10.9-.5,3-.9,2-2.9,4-5.2,5-20.7,14.9-4.3,4-8,8.8-3,2.3-3,1.6-7,2.4-11,1.9-15,1.2-17.1,.6-16-.5-15.1-1.3-10.9-1.9-7-2.4-3-1.6-3-2.3-8-8.8-4.3-4-20.7-14.9-5.2-5-2.9-4-.9-2-.5-3 .5-10.9 1.5-8 3.4-7.6 9-15.3 5-6 2.3-2 3.4-2 11-5M584.6,261.5l12,4 6.3,3 4.8,4 3.3,4 10.1,15.9 3.2,7 1.3,7 .6,6.9-.1,5-1.2,4-2.1,3-2.9,2.9-5,4-5,3.2-12,6.3-20.1,8.9-9,2.9-10,1.9-13,1.3-14.1,.6-14-.6-12-1.3-10-1.9-9-2.9-20.1-8.9-12-6.3-5-3.2-5-4-2.9-2.9-2.1-3-1.2-4-.1-5 .6-6.9 1.3-7 3.2-7 10.1-15.9 3.3-4 4.8-4 6.3-3 12-4M566.6,261.5l18.2,3.2 6.8,1.8 6.6,3 5.9,5 2.5,3 9.3,13.7 3.8,7.2 1.2,5 .8,7 0,6.9-.8,3.4-1.5,2.6-1.9,2-3.6,2.9-5,3.2-9,4.4-11.1,3.7-11,2.4-13,1.7-16,1.2-17.1,.4-18-.5-15-1.2-13-1.8-11.1-2.5-11-3.8-9-4.6-7.6-5.5-2.4-2.7-1.1-2.3-.7-3 0-6.9 .8-7 1.2-5 3.8-7.2 9.3-13.7 2.5-3 5.9-5 6.6-3 6.8-1.8 18.2-3.2M501.5,264.5l30.2-.9 29.1,.8 11,.8 7,.9 6.3,1.4 5.5,2 5.3,3.2 4.1,3.8 10.9,14.5 3.3,5.4 1.7,4.8 .9,7.2 0,7.9-1.1,4-2.8,3.5-5,3.3-8,3.6-8,2.5-8.1,1.7-10,1.3-27,1.4-16.1,.2-20-.4-15-.8-12-1.3-9.1-1.6-8-2.3-9-3.8-5.4-3.3-2.8-3-1.6-4-.2-7.9 1.2-9 1.5-4 2.3-3.9 11.9-16 3.1-3 2.9-2 6.2-3.2 11-2.5 13.8-1.3M513.3,266.5l27.5-.3 25,1.1 8.9,1.2 4.4,1 4.7,1.7 4,1.9 3.6,2.4 3.5,3.4 10,11.9 4.2,6.6 1.3,4 .7,7-.4,6.9-1.3,4-2.9,3-3.7,2-5.9,2.1-8.1,1.7-20,2.1-29,1-32.1-.4-15-.8-11-1.1-9.1-1.4-7-1.7-6-2.5-3-2.1-2.1-2.9-.9-5-.2-6.9 1.2-7 1.8-4 2.8-4 12.7-14.9 6-4 4.6-2 4.2-1.3 10.5-1.7 16.1-1M511.4,270.5l20.3-.8 21.4,.8 15.7,1.9 5,1.2 5,1.9 5,3.2 8.1,7.1 5.4,5.6 3.7,5 1.6,4 .5,5-.6,5-1.7,4.9-1.1,2-2.3,2-4.5,1.9-4.9,1.1-16.2,1.8-23,1-32.1,0-27-1.2-9-.9-7.1-1.3-4.5-1.4-3.4-2-2-3-1.5-4-.7-3.9 .1-5 .6-3 1.3-3 2.1-3.1 3.4-3.9 10.7-9.9 3-2.3 3-1.7 5-1.9 5-1.2 15.7-1.9M523.5,278.4l9.3-.4 14,1.1 11,2 10,3.2 5,2.2 5,2.9 6,5 2,3 .7,2 0,2-.6,2-2.1,3.2-3.5,2.8-4.5,2.1-5.7,1.8-7.3,1.6-9,1.2-20,1.2-11.1-.3-10-.7-9-1.1-8-1.5-6-1.8-5-2.3-3.2-2.2-2.4-3-.9-2-.3-2 .4-2 .9-2 3.5-4 6-4.2 7.6-3.8 8.4-2.8 9-1.9 9.8-1.3" fill="none" stroke="#fff" stroke-opacity="0.75" stroke-width="0.9" mask="url(#maskd)"/>
<g fill="#fff" font-size="15.6" fill-opacity="0.78"><text x="535.8" y="275.1" text-anchor="middle" textLength="26.7" lengthAdjust="spacingAndGlyphs">130</text><text x="531.7" y="321.9" text-anchor="middle" textLength="26.7" lengthAdjust="spacingAndGlyphs">140</text><text x="531.7" y="336.9" text-anchor="middle" textLength="26.7" lengthAdjust="spacingAndGlyphs">120</text><text x="531.7" y="350.8" text-anchor="middle" textLength="26.7" lengthAdjust="spacingAndGlyphs">100</text><text x="631.9" y="324.9" text-anchor="middle" textLength="17.8" lengthAdjust="spacingAndGlyphs">90</text><text x="454.6" y="357.8" text-anchor="middle" textLength="17.8" lengthAdjust="spacingAndGlyphs">70</text><text x="611.9" y="357.8" text-anchor="middle" textLength="17.8" lengthAdjust="spacingAndGlyphs">70</text><text x="464.6" y="374.8" text-anchor="middle" textLength="17.8" lengthAdjust="spacingAndGlyphs">60</text><text x="529.7" y="374.8" text-anchor="middle" textLength="17.8" lengthAdjust="spacingAndGlyphs">80</text><text x="622.9" y="376.8" text-anchor="middle" textLength="17.8" lengthAdjust="spacingAndGlyphs">60</text><text x="449.6" y="393.7" text-anchor="middle" textLength="17.8" lengthAdjust="spacingAndGlyphs">50</text><text x="617.9" y="393.7" text-anchor="middle" textLength="17.8" lengthAdjust="spacingAndGlyphs">50</text></g>
</g>
<path d="M389.5,427.0H675.0M389.5,261.5H675.0" stroke="#222" stroke-width="1" fill="none"/>
<path d="M389.5,261.5V427.0M675.0,261.5V427.0" stroke="#111" stroke-width="1" fill="none"/>
<path d="M385.1,427.00H389.5M385.1,406.31H389.5M385.1,385.62H389.5M385.1,364.94H389.5M385.1,344.25H389.5M385.1,323.56H389.5M385.1,302.88H389.5M385.1,282.19H389.5M385.1,261.50H389.5M389.50,427.0V431.2M437.08,427.0V431.2M484.67,427.0V431.2M532.25,427.0V431.2M579.83,427.0V431.2M627.42,427.0V431.2M675.00,427.0V431.2" stroke="#222" stroke-width="1" fill="none"/>
<g font-size="12.4" fill="#333" stroke="#fff" stroke-width="0.25"><text x="381.0" y="431.5" text-anchor="end">40</text><text x="381.0" y="410.8" text-anchor="end">45</text><text x="381.0" y="390.1" text-anchor="end">50</text><text x="381.0" y="369.4" text-anchor="end">55</text><text x="381.0" y="348.8" text-anchor="end">60</text><text x="381.0" y="328.1" text-anchor="end">65</text><text x="381.0" y="307.4" text-anchor="end">70</text><text x="381.0" y="286.7" text-anchor="end">75</text><text x="381.0" y="266.0" text-anchor="end">80</text><text x="389.5" y="443.4" text-anchor="middle">90S</text><text x="437.1" y="443.4" text-anchor="middle">60S</text><text x="484.7" y="443.4" text-anchor="middle">30S</text><text x="532.2" y="443.4" text-anchor="middle">EQ</text><text x="579.8" y="443.4" text-anchor="middle">30N</text><text x="627.4" y="443.4" text-anchor="middle">60N</text><text x="675.0" y="443.4" text-anchor="middle">90N</text></g>
<text x="532.2" y="462.5" text-anchor="middle" font-size="16.8" fill="#333" stroke="#fff" stroke-width="0.4" textLength="138.5" lengthAdjust="spacingAndGlyphs">Latitude (degree)</text>
<text transform="translate(358.0,344.2) rotate(-90)" text-anchor="middle" font-size="16" fill="#333" stroke="#fff" stroke-width="0.4" textLength="100" lengthAdjust="spacingAndGlyphs">Altitude (km)</text>
<text x="50.2" y="16.8" font-size="20.5" fill="#333" stroke="#fff" stroke-width="0.55" textLength="30" lengthAdjust="spacingAndGlyphs">(a)</text>
<text x="98.0" y="16.8" font-size="20.5" fill="#333" stroke="#fff" stroke-width="0.55" textLength="23.0" lengthAdjust="spacingAndGlyphs">frf</text>
<text x="398.4" y="16.6" font-size="20.5" fill="#333" stroke="#fff" stroke-width="0.55" textLength="30" lengthAdjust="spacingAndGlyphs">(b)</text>
<text x="445.6" y="16.6" font-size="20.5" fill="#333" stroke="#fff" stroke-width="0.55" textLength="21.2" lengthAdjust="spacingAndGlyphs">h1</text>
<text x="48.4" y="250.2" font-size="20.5" fill="#333" stroke="#fff" stroke-width="0.55" textLength="30" lengthAdjust="spacingAndGlyphs">(c)</text>
<text x="95.7" y="250.2" font-size="20.5" fill="#333" stroke="#fff" stroke-width="0.55" textLength="65.8" lengthAdjust="spacingAndGlyphs">h1_ds</text>
<text x="396.9" y="250.2" font-size="20.5" fill="#333" stroke="#fff" stroke-width="0.55" textLength="30" lengthAdjust="spacingAndGlyphs">(d)</text>
<text x="444.6" y="250.2" font-size="20.5" fill="#333" stroke="#fff" stroke-width="0.55" textLength="65.0" lengthAdjust="spacingAndGlyphs">h1_ns</text>
<rect x="127.30" y="479.2" width="42.31" height="8.8" fill="#6a00dc"/>
<rect x="169.61" y="479.2" width="42.31" height="8.8" fill="#1e50ff"/>
<rect x="211.92" y="479.2" width="42.31" height="8.8" fill="#00a8f0"/>
<rect x="254.23" y="479.2" width="42.31" height="8.8" fill="#00ccb4"/>
<rect x="296.54" y="479.2" width="42.31" height="8.8" fill="#00d84c"/>
<rect x="338.85" y="479.2" width="42.31" height="8.8" fill="#56e01a"/>
<rect x="381.16" y="479.2" width="42.31" height="8.8" fill="#c8e032"/>
<rect x="423.47" y="479.2" width="42.31" height="8.8" fill="#e8bc32"/>
<rect x="465.78" y="479.2" width="42.31" height="8.8" fill="#f08c2c"/>
<rect x="508.09" y="479.2" width="42.31" height="8.8" fill="#f84040"/>
<path d="M127.3,479.2L85,483.6L127.3,488.0Z" fill="#a000c0"/>
<path d="M550.4,479.2L592.5,483.6L550.4,488.0Z" fill="#f0108c"/>
<path d="M127.3,479.2L85,483.6L127.3,488.0ZM550.4,479.2L592.5,483.6L550.4,488.0ZM127.3,479.2H550.4M127.3,488.0H550.4M127.30,479.2V488.0M169.61,479.2V488.0M211.92,479.2V488.0M254.23,479.2V488.0M296.54,479.2V488.0M338.85,479.2V488.0M381.16,479.2V488.0M423.47,479.2V488.0M465.78,479.2V488.0M508.09,479.2V488.0M550.40,479.2V488.0" stroke="#222" stroke-width="0.8" fill="none"/>
<g font-size="16" fill="#333" stroke="#fff" stroke-width="0.4" text-anchor="middle"><text x="128" y="503" textLength="56" lengthAdjust="spacingAndGlyphs">−0.005</text><text x="338.7" y="503">0</text><text x="550.4" y="503">0.005</text></g>
</svg></body></html>
